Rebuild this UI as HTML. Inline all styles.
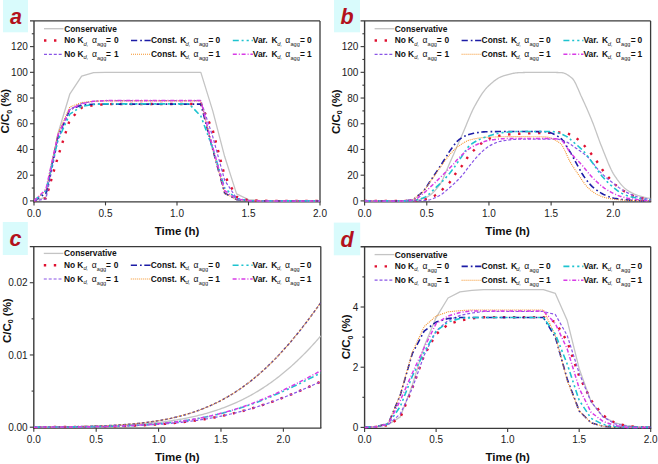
<!DOCTYPE html>
<html><head><meta charset="utf-8"><title>Breakthrough curves</title>
<style>
html,body{margin:0;padding:0;background:#fff;}
body{width:658px;height:464px;overflow:hidden;font-family:"Liberation Sans", sans-serif;}
svg{display:block;}
</style></head><body>
<svg width="658" height="464" viewBox="0 0 658 464" font-family='"Liberation Sans", sans-serif'><defs><clipPath id="clipa"><rect x="34" y="17.9" width="286" height="185.4"/></clipPath><clipPath id="clipb"><rect x="364.6" y="17.9" width="286" height="185.4"/></clipPath><clipPath id="clipc"><rect x="33.8" y="243.6" width="287" height="186"/></clipPath><clipPath id="clipd"><rect x="364.6" y="243.8" width="286.1" height="186"/></clipPath></defs><rect x="3" y="0" width="25" height="32.3" fill="#d9fbfc"/>
<text x="10.1" y="24.4" font-size="21.5" font-weight="bold" font-style="italic" text-anchor="start" fill="#b3111c">a</text>
<line x1="30" y1="20.9" x2="320" y2="20.9" stroke="#3a3a3a" stroke-width="1.4"/>
<line x1="320" y1="20.9" x2="320" y2="201.8" stroke="#3a3a3a" stroke-width="1.3"/>
<line x1="34" y1="20.9" x2="34" y2="202.4" stroke="#3a3a3a" stroke-width="1.4"/>
<line x1="33.4" y1="201.8" x2="320.6" y2="201.8" stroke="#3a3a3a" stroke-width="1.2"/>
<g clip-path="url(#clipa)">
<path d="M34 200.9 L45.92 197.04 L57.83 134.04 L69.75 94.19 L81.67 76.19 L93.58 72.71 L105.5 72.33 L117.42 72.33 L129.33 72.33 L141.25 72.33 L153.17 72.33 L165.08 72.33 L177 72.33 L188.92 72.33 L200.83 72.33 L212.75 110.9 L224.67 156.54 L236.58 193.83 L248.5 199.61 L260.42 200.64 L272.33 200.9 L284.25 200.9 L296.17 200.9 L308.08 200.9 L320 200.9" fill="none" stroke="#c4c4c4" stroke-width="1.3" stroke-linejoin="round" stroke-linecap="butt"/>
<path d="M34 200.9 L45.92 198.33 L57.83 157.19 L69.75 119.9 L81.67 107.69 L93.58 105.11 L105.5 104.21 L117.42 103.96 L129.33 103.96 L141.25 103.96 L153.17 103.96 L165.08 103.96 L177 103.96 L188.92 103.96 L200.83 103.96 L212.75 130.19 L224.67 175.83 L236.58 196.79 L248.5 200.26 L260.42 200.77 L272.33 200.9 L284.25 200.9 L296.17 200.9 L308.08 200.9 L320 200.9" fill="none" stroke="#e01030" stroke-width="2.4" stroke-linejoin="round" stroke-linecap="butt" stroke-dasharray="2.4 7.6"/>
<path d="M34 200.9 L45.92 198.97 L57.83 140.47 L69.75 109.61 L81.67 103.19 L93.58 101.26 L105.5 100.61 L117.42 100.61 L129.33 100.61 L141.25 100.61 L153.17 100.61 L165.08 100.61 L177 100.61 L188.92 100.61 L200.83 100.61 L212.75 136.61 L224.67 180.33 L236.58 198.33 L248.5 200.51 L260.42 200.9 L272.33 200.9 L284.25 200.9 L296.17 200.9 L308.08 200.9 L320 200.9" fill="none" stroke="#8a55e6" stroke-width="1.2" stroke-linejoin="round" stroke-linecap="butt" stroke-dasharray="3 1.9"/>
<path d="M34 200.9 L45.92 193.19 L57.83 136.61 L69.75 109.61 L81.67 105.11 L93.58 104.21 L105.5 104.09 L117.42 104.09 L129.33 104.09 L141.25 104.09 L153.17 104.09 L165.08 104.09 L177 104.09 L188.92 104.09 L200.83 104.09 L212.75 149.47 L224.67 193.19 L236.58 199.61 L248.5 200.64 L260.42 200.9 L272.33 200.9 L284.25 200.9 L296.17 200.9 L308.08 200.9 L320 200.9" fill="none" stroke="#1c1ca6" stroke-width="1.6" stroke-linejoin="round" stroke-linecap="butt" stroke-dasharray="6.2 3 1.7 2.6"/>
<path d="M34 200.9 L45.92 190.61 L57.83 134.04 L69.75 107.04 L81.67 102.54 L93.58 101.26 L105.5 100.87 L117.42 100.87 L129.33 100.87 L141.25 100.87 L153.17 100.87 L165.08 100.87 L177 100.87 L188.92 100.87 L200.83 100.87 L212.75 149.47 L224.67 193.19 L236.58 199.61 L248.5 200.64 L260.42 200.9 L272.33 200.9 L284.25 200.9 L296.17 200.9 L308.08 200.9 L320 200.9" fill="none" stroke="#f5932a" stroke-width="1.1" stroke-linejoin="round" stroke-linecap="butt" stroke-dasharray="1 1"/>
<path d="M34 200.9 L45.92 190.61 L57.83 140.47 L69.75 114.11 L81.67 106.4 L93.58 104.47 L105.5 103.83 L117.42 103.83 L129.33 103.83 L141.25 103.83 L153.17 103.83 L165.08 103.83 L177 103.83 L188.92 103.83 L200.83 116.04 L212.75 148.19 L224.67 188.04 L236.58 198.97 L248.5 200.51 L260.42 200.9 L272.33 200.9 L284.25 200.9 L296.17 200.9 L308.08 200.9 L320 200.9" fill="none" stroke="#1ec3cf" stroke-width="1.6" stroke-linejoin="round" stroke-linecap="butt" stroke-dasharray="6 2.8 2 3 2.2 2.8"/>
<path d="M34 200.9 L45.92 189.33 L57.83 135.33 L69.75 109.61 L81.67 103.83 L93.58 101.26 L105.5 100.61 L117.42 100.61 L129.33 100.61 L141.25 100.61 L153.17 100.61 L165.08 100.61 L177 100.61 L188.92 100.61 L200.83 100.61 L212.75 146.9 L224.67 190.61 L236.58 198.97 L248.5 200.64 L260.42 200.9 L272.33 200.9 L284.25 200.9 L296.17 200.9 L308.08 200.9 L320 200.9" fill="none" stroke="#d83ce6" stroke-width="1.5" stroke-linejoin="round" stroke-linecap="butt" stroke-dasharray="4 2 1 1.8"/>
</g>
<line x1="30" y1="200.9" x2="34" y2="200.9" stroke="#3a3a3a" stroke-width="1.1"/>
<text x="27.8" y="204.5" font-size="10" font-weight="normal" font-style="normal" text-anchor="end" fill="#1a1a1a">0</text>
<line x1="30" y1="175.19" x2="34" y2="175.19" stroke="#3a3a3a" stroke-width="1.1"/>
<text x="27.8" y="178.79" font-size="10" font-weight="normal" font-style="normal" text-anchor="end" fill="#1a1a1a">20</text>
<line x1="30" y1="149.47" x2="34" y2="149.47" stroke="#3a3a3a" stroke-width="1.1"/>
<text x="27.8" y="153.07" font-size="10" font-weight="normal" font-style="normal" text-anchor="end" fill="#1a1a1a">40</text>
<line x1="30" y1="123.76" x2="34" y2="123.76" stroke="#3a3a3a" stroke-width="1.1"/>
<text x="27.8" y="127.36" font-size="10" font-weight="normal" font-style="normal" text-anchor="end" fill="#1a1a1a">60</text>
<line x1="30" y1="98.04" x2="34" y2="98.04" stroke="#3a3a3a" stroke-width="1.1"/>
<text x="27.8" y="101.64" font-size="10" font-weight="normal" font-style="normal" text-anchor="end" fill="#1a1a1a">80</text>
<line x1="30" y1="72.33" x2="34" y2="72.33" stroke="#3a3a3a" stroke-width="1.1"/>
<text x="27.8" y="75.93" font-size="10" font-weight="normal" font-style="normal" text-anchor="end" fill="#1a1a1a">100</text>
<line x1="30" y1="46.61" x2="34" y2="46.61" stroke="#3a3a3a" stroke-width="1.1"/>
<text x="27.8" y="50.21" font-size="10" font-weight="normal" font-style="normal" text-anchor="end" fill="#1a1a1a">120</text>
<line x1="31.8" y1="188.04" x2="34" y2="188.04" stroke="#3a3a3a" stroke-width="1.1"/>
<line x1="31.8" y1="162.33" x2="34" y2="162.33" stroke="#3a3a3a" stroke-width="1.1"/>
<line x1="31.8" y1="136.61" x2="34" y2="136.61" stroke="#3a3a3a" stroke-width="1.1"/>
<line x1="31.8" y1="110.9" x2="34" y2="110.9" stroke="#3a3a3a" stroke-width="1.1"/>
<line x1="31.8" y1="85.19" x2="34" y2="85.19" stroke="#3a3a3a" stroke-width="1.1"/>
<line x1="31.8" y1="59.47" x2="34" y2="59.47" stroke="#3a3a3a" stroke-width="1.1"/>
<line x1="31.8" y1="33.76" x2="34" y2="33.76" stroke="#3a3a3a" stroke-width="1.1"/>
<line x1="34" y1="201.8" x2="34" y2="205.4" stroke="#3a3a3a" stroke-width="1.1"/>
<text x="34" y="216.9" font-size="10" font-weight="normal" font-style="normal" text-anchor="middle" fill="#1a1a1a">0.0</text>
<line x1="105.5" y1="201.8" x2="105.5" y2="205.4" stroke="#3a3a3a" stroke-width="1.1"/>
<text x="105.5" y="216.9" font-size="10" font-weight="normal" font-style="normal" text-anchor="middle" fill="#1a1a1a">0.5</text>
<line x1="177" y1="201.8" x2="177" y2="205.4" stroke="#3a3a3a" stroke-width="1.1"/>
<text x="177" y="216.9" font-size="10" font-weight="normal" font-style="normal" text-anchor="middle" fill="#1a1a1a">1.0</text>
<line x1="248.5" y1="201.8" x2="248.5" y2="205.4" stroke="#3a3a3a" stroke-width="1.1"/>
<text x="248.5" y="216.9" font-size="10" font-weight="normal" font-style="normal" text-anchor="middle" fill="#1a1a1a">1.5</text>
<line x1="320" y1="201.8" x2="320" y2="205.4" stroke="#3a3a3a" stroke-width="1.1"/>
<text x="320" y="216.9" font-size="10" font-weight="normal" font-style="normal" text-anchor="middle" fill="#1a1a1a">2.0</text>
<text x="177" y="234.8" font-size="11.5" font-weight="bold" font-style="normal" text-anchor="middle" fill="#111">Time (h)</text>
<text transform="translate(8.9 111.2) rotate(-90)" font-size="11.5" font-weight="bold" text-anchor="middle" fill="#111">C/C<tspan font-size="7" dy="2.6">0</tspan><tspan dy="-2.6"> (%)</tspan></text>
<path d="M44 28.7 H63.6" fill="none" stroke="#c4c4c4" stroke-width="1.3" stroke-linejoin="round" stroke-linecap="butt"/>
<text x="64.2" y="31.7" font-size="8.4" font-weight="bold" font-style="normal" text-anchor="start" fill="#111">Conservative</text>
<path d="M44 40.5 H63.6" fill="none" stroke="#e01030" stroke-width="2.4" stroke-linejoin="round" stroke-linecap="butt" stroke-dasharray="2.4 7.6"/>
<text x="64.2" y="43.3" font-size="8.4" font-weight="bold" font-style="normal" text-anchor="start" fill="#111">No</text>
<text x="77.4" y="43.3" font-size="8.4" font-weight="bold" font-style="normal" text-anchor="start" fill="#111">K</text>
<text x="83.6" y="45.5" font-size="5.8" font-weight="normal" font-style="italic" text-anchor="start" fill="#222">d,</text>
<text x="92" y="43.3" font-size="8.6" font-weight="normal" font-style="normal" text-anchor="start" fill="#111">α</text>
<text x="97" y="46.1" font-size="5.6" font-weight="normal" font-style="normal" text-anchor="start" fill="#222">agg</text>
<text x="106.1" y="43.3" font-size="8.4" font-weight="bold" font-style="normal" text-anchor="start" fill="#111">=</text>
<text x="113.9" y="43.3" font-size="8.4" font-weight="bold" font-style="normal" text-anchor="start" fill="#111">0</text>
<path d="M44 54.3 H63.6" fill="none" stroke="#8a55e6" stroke-width="1.2" stroke-linejoin="round" stroke-linecap="butt" stroke-dasharray="3 1.9"/>
<text x="64.2" y="57" font-size="8.4" font-weight="bold" font-style="normal" text-anchor="start" fill="#111">No</text>
<text x="77.4" y="57" font-size="8.4" font-weight="bold" font-style="normal" text-anchor="start" fill="#111">K</text>
<text x="83.6" y="59.2" font-size="5.8" font-weight="normal" font-style="italic" text-anchor="start" fill="#222">d,</text>
<text x="92" y="57" font-size="8.6" font-weight="normal" font-style="normal" text-anchor="start" fill="#111">α</text>
<text x="97" y="59.8" font-size="5.6" font-weight="normal" font-style="normal" text-anchor="start" fill="#222">agg</text>
<text x="106.1" y="57" font-size="8.4" font-weight="bold" font-style="normal" text-anchor="start" fill="#111">=</text>
<text x="113.9" y="57" font-size="8.4" font-weight="bold" font-style="normal" text-anchor="start" fill="#111">1</text>
<path d="M131 40.5 H151" fill="none" stroke="#1c1ca6" stroke-width="1.6" stroke-linejoin="round" stroke-linecap="butt" stroke-dasharray="6.2 3 1.7 2.6"/>
<text x="151" y="43.3" font-size="8.4" font-weight="bold" font-style="normal" text-anchor="start" fill="#111">Const.</text>
<text x="180.3" y="43.3" font-size="8.4" font-weight="bold" font-style="normal" text-anchor="start" fill="#111">K</text>
<text x="185.6" y="45.5" font-size="5.8" font-weight="normal" font-style="italic" text-anchor="start" fill="#222">d,</text>
<text x="193.6" y="43.3" font-size="8.6" font-weight="normal" font-style="normal" text-anchor="start" fill="#111">α</text>
<text x="198.9" y="46.1" font-size="5.6" font-weight="normal" font-style="normal" text-anchor="start" fill="#222">agg</text>
<text x="208.5" y="43.3" font-size="8.4" font-weight="bold" font-style="normal" text-anchor="start" fill="#111">=</text>
<text x="215.4" y="43.3" font-size="8.4" font-weight="bold" font-style="normal" text-anchor="start" fill="#111">0</text>
<path d="M131 54.3 H151" fill="none" stroke="#f5932a" stroke-width="1.1" stroke-linejoin="round" stroke-linecap="butt" stroke-dasharray="1 1"/>
<text x="151" y="57" font-size="8.4" font-weight="bold" font-style="normal" text-anchor="start" fill="#111">Const.</text>
<text x="180.3" y="57" font-size="8.4" font-weight="bold" font-style="normal" text-anchor="start" fill="#111">K</text>
<text x="185.6" y="59.2" font-size="5.8" font-weight="normal" font-style="italic" text-anchor="start" fill="#222">d,</text>
<text x="193.6" y="57" font-size="8.6" font-weight="normal" font-style="normal" text-anchor="start" fill="#111">α</text>
<text x="198.9" y="59.8" font-size="5.6" font-weight="normal" font-style="normal" text-anchor="start" fill="#222">agg</text>
<text x="208.5" y="57" font-size="8.4" font-weight="bold" font-style="normal" text-anchor="start" fill="#111">=</text>
<text x="215.4" y="57" font-size="8.4" font-weight="bold" font-style="normal" text-anchor="start" fill="#111">1</text>
<path d="M232.8 40.5 H252.9" fill="none" stroke="#1ec3cf" stroke-width="1.6" stroke-linejoin="round" stroke-linecap="butt" stroke-dasharray="6 2.8 2 3 2.2 2.8"/>
<text x="252.8" y="43.3" font-size="8.4" font-weight="bold" font-style="normal" text-anchor="start" fill="#111">Var.</text>
<text x="271.4" y="43.3" font-size="8.4" font-weight="bold" font-style="normal" text-anchor="start" fill="#111">K</text>
<text x="277.2" y="45.5" font-size="5.8" font-weight="normal" font-style="italic" text-anchor="start" fill="#222">d,</text>
<text x="285.2" y="43.3" font-size="8.6" font-weight="normal" font-style="normal" text-anchor="start" fill="#111">α</text>
<text x="290.5" y="46.1" font-size="5.6" font-weight="normal" font-style="normal" text-anchor="start" fill="#222">agg</text>
<text x="300.1" y="43.3" font-size="8.4" font-weight="bold" font-style="normal" text-anchor="start" fill="#111">=</text>
<text x="307" y="43.3" font-size="8.4" font-weight="bold" font-style="normal" text-anchor="start" fill="#111">0</text>
<path d="M232.8 54.3 H252.9" fill="none" stroke="#d83ce6" stroke-width="1.5" stroke-linejoin="round" stroke-linecap="butt" stroke-dasharray="4 2 1 1.8"/>
<text x="252.8" y="57" font-size="8.4" font-weight="bold" font-style="normal" text-anchor="start" fill="#111">Var.</text>
<text x="271.4" y="57" font-size="8.4" font-weight="bold" font-style="normal" text-anchor="start" fill="#111">K</text>
<text x="277.2" y="59.2" font-size="5.8" font-weight="normal" font-style="italic" text-anchor="start" fill="#222">d,</text>
<text x="285.2" y="57" font-size="8.6" font-weight="normal" font-style="normal" text-anchor="start" fill="#111">α</text>
<text x="290.5" y="59.8" font-size="5.6" font-weight="normal" font-style="normal" text-anchor="start" fill="#222">agg</text>
<text x="300.1" y="57" font-size="8.4" font-weight="bold" font-style="normal" text-anchor="start" fill="#111">=</text>
<text x="307" y="57" font-size="8.4" font-weight="bold" font-style="normal" text-anchor="start" fill="#111">1</text>
<rect x="334" y="0" width="26" height="32.3" fill="#d9fbfc"/>
<text x="340.5" y="24.4" font-size="21.5" font-weight="bold" font-style="italic" text-anchor="start" fill="#b3111c">b</text>
<line x1="360.6" y1="20.9" x2="650.6" y2="20.9" stroke="#3a3a3a" stroke-width="1.4"/>
<line x1="650.6" y1="20.9" x2="650.6" y2="201.8" stroke="#3a3a3a" stroke-width="1.3"/>
<line x1="364.6" y1="20.9" x2="364.6" y2="202.4" stroke="#3a3a3a" stroke-width="1.4"/>
<line x1="364" y1="201.8" x2="651.2" y2="201.8" stroke="#3a3a3a" stroke-width="1.2"/>
<g clip-path="url(#clipb)">
<path d="M364.6 200.9 L365.56 200.9 L366.51 200.9 L367.47 200.9 L368.43 200.9 L369.38 200.9 L370.34 200.9 L371.3 200.9 L372.25 200.9 L373.21 200.9 L374.17 200.9 L375.12 200.9 L376.08 200.9 L377.03 200.9 L377.99 200.9 L378.95 200.9 L379.9 200.9 L380.86 200.9 L381.82 200.9 L382.77 200.9 L383.73 200.9 L384.69 200.9 L385.64 200.9 L386.6 200.9 L387.56 200.9 L388.51 200.9 L389.47 200.9 L390.43 200.9 L391.38 200.9 L392.34 200.9 L393.3 200.9 L394.25 200.9 L395.21 200.9 L396.17 200.9 L397.12 200.9 L398.08 200.9 L399.03 200.9 L399.99 200.9 L400.95 200.9 L401.9 200.9 L402.86 200.9 L403.82 200.89 L404.77 200.87 L405.73 200.84 L406.69 200.81 L407.64 200.77 L408.6 200.73 L409.56 200.69 L410.51 200.63 L411.47 200.58 L412.43 200.52 L413.38 200.45 L414.34 200.39 L415.3 200.3 L416.25 200.18 L417.21 200.02 L418.17 199.84 L419.12 199.62 L420.08 199.38 L421.03 199.11 L421.99 198.82 L422.95 198.5 L423.9 198.17 L424.86 197.81 L425.82 197.43 L426.77 197.04 L427.73 196.6 L428.69 196.06 L429.64 195.44 L430.6 194.73 L431.56 193.95 L432.51 193.1 L433.47 192.17 L434.43 191.19 L435.38 190.14 L436.34 189.05 L437.3 187.9 L438.25 186.7 L439.21 185.47 L440.17 184.09 L441.12 182.47 L442.08 180.65 L443.03 178.67 L443.99 176.55 L444.95 174.34 L445.9 172.06 L446.86 169.75 L447.82 167.44 L448.77 165.18 L449.73 162.99 L450.69 160.87 L451.64 158.74 L452.6 156.59 L453.56 154.43 L454.51 152.25 L455.47 150.07 L456.43 147.88 L457.38 145.68 L458.34 143.49 L459.3 141.29 L460.25 139.09 L461.21 136.9 L462.17 134.72 L463.12 132.53 L464.08 130.28 L465.03 127.99 L465.99 125.68 L466.95 123.35 L467.9 121.03 L468.86 118.74 L469.82 116.48 L470.77 114.27 L471.73 112.13 L472.69 110.08 L473.64 108.13 L474.6 106.3 L475.56 104.57 L476.51 102.87 L477.47 101.19 L478.43 99.55 L479.38 97.94 L480.34 96.39 L481.3 94.89 L482.25 93.44 L483.21 92.07 L484.17 90.78 L485.12 89.56 L486.08 88.44 L487.03 87.41 L487.99 86.47 L488.95 85.55 L489.9 84.66 L490.86 83.79 L491.82 82.95 L492.77 82.14 L493.73 81.36 L494.69 80.62 L495.64 79.91 L496.6 79.25 L497.56 78.63 L498.51 78.05 L499.47 77.53 L500.43 77.06 L501.38 76.64 L502.34 76.28 L503.3 75.97 L504.25 75.67 L505.21 75.37 L506.17 75.09 L507.12 74.81 L508.08 74.54 L509.03 74.29 L509.99 74.05 L510.95 73.82 L511.9 73.61 L512.86 73.42 L513.82 73.24 L514.77 73.08 L515.73 72.94 L516.69 72.82 L517.64 72.73 L518.6 72.65 L519.56 72.6 L520.51 72.57 L521.47 72.55 L522.43 72.53 L523.38 72.5 L524.34 72.48 L525.3 72.47 L526.25 72.45 L527.21 72.43 L528.17 72.41 L529.12 72.4 L530.08 72.39 L531.03 72.37 L531.99 72.36 L532.95 72.35 L533.9 72.35 L534.86 72.34 L535.82 72.34 L536.77 72.33 L537.73 72.33 L538.69 72.33 L539.64 72.33 L540.6 72.33 L541.56 72.33 L542.51 72.33 L543.47 72.34 L544.43 72.34 L545.38 72.35 L546.34 72.35 L547.3 72.36 L548.25 72.37 L549.21 72.38 L550.17 72.39 L551.12 72.4 L552.08 72.41 L553.03 72.43 L553.99 72.44 L554.95 72.46 L555.9 72.47 L556.86 72.49 L557.82 72.51 L558.77 72.53 L559.73 72.55 L560.69 72.58 L561.64 72.62 L562.6 72.76 L563.56 72.99 L564.51 73.32 L565.47 73.72 L566.43 74.2 L567.38 74.75 L568.34 75.35 L569.3 76.01 L570.25 76.71 L571.21 77.45 L572.17 78.23 L573.12 79.3 L574.08 80.72 L575.03 82.41 L575.99 84.33 L576.95 86.42 L577.9 88.61 L578.86 90.86 L579.82 93.09 L580.77 95.27 L581.73 97.32 L582.69 99.36 L583.64 101.43 L584.6 103.53 L585.56 105.67 L586.51 107.83 L587.47 110.02 L588.43 112.24 L589.38 114.5 L590.34 116.78 L591.3 119.1 L592.25 121.45 L593.21 123.86 L594.17 126.38 L595.12 128.97 L596.08 131.62 L597.03 134.29 L597.99 136.96 L598.95 139.61 L599.9 142.2 L600.86 144.71 L601.82 147.11 L602.77 149.49 L603.73 151.89 L604.69 154.3 L605.64 156.7 L606.6 159.07 L607.56 161.41 L608.51 163.68 L609.47 165.88 L610.43 167.98 L611.38 169.97 L612.34 171.84 L613.3 173.56 L614.25 175.13 L615.21 176.58 L616.17 177.99 L617.12 179.36 L618.08 180.67 L619.03 181.94 L619.99 183.15 L620.95 184.3 L621.9 185.39 L622.86 186.41 L623.82 187.36 L624.77 188.24 L625.73 189.05 L626.69 189.77 L627.64 190.42 L628.6 191.04 L629.56 191.62 L630.51 192.17 L631.47 192.69 L632.43 193.18 L633.38 193.63 L634.34 194.06 L635.3 194.46 L636.25 194.83 L637.21 195.18 L638.17 195.5 L639.12 195.81 L640.08 196.11 L641.03 196.4 L641.99 196.68 L642.95 196.94 L643.9 197.2 L644.86 197.44 L645.82 197.66 L646.77 197.86 L647.73 198.05 L648.69 198.21 L649.64 198.35 L650.6 198.46" fill="none" stroke="#c4c4c4" stroke-width="1.3" stroke-linejoin="round" stroke-linecap="butt"/>
<path d="M364.6 200.9 L365.56 200.9 L366.51 200.9 L367.47 200.9 L368.43 200.9 L369.38 200.9 L370.34 200.9 L371.3 200.9 L372.25 200.9 L373.21 200.9 L374.17 200.9 L375.12 200.9 L376.08 200.9 L377.03 200.9 L377.99 200.9 L378.95 200.9 L379.9 200.9 L380.86 200.9 L381.82 200.9 L382.77 200.9 L383.73 200.9 L384.69 200.9 L385.64 200.9 L386.6 200.9 L387.56 200.9 L388.51 200.9 L389.47 200.9 L390.43 200.9 L391.38 200.9 L392.34 200.9 L393.3 200.9 L394.25 200.9 L395.21 200.9 L396.17 200.9 L397.12 200.9 L398.08 200.9 L399.03 200.9 L399.99 200.9 L400.95 200.9 L401.9 200.9 L402.86 200.9 L403.82 200.9 L404.77 200.9 L405.73 200.9 L406.69 200.9 L407.64 200.9 L408.6 200.9 L409.56 200.89 L410.51 200.87 L411.47 200.84 L412.43 200.81 L413.38 200.77 L414.34 200.72 L415.3 200.66 L416.25 200.6 L417.21 200.53 L418.17 200.46 L419.12 200.38 L420.08 200.3 L421.03 200.21 L421.99 200.08 L422.95 199.92 L423.9 199.72 L424.86 199.49 L425.82 199.22 L426.77 198.93 L427.73 198.61 L428.69 198.27 L429.64 197.9 L430.6 197.51 L431.56 197.11 L432.51 196.69 L433.47 196.26 L434.43 195.8 L435.38 195.24 L436.34 194.6 L437.3 193.89 L438.25 193.12 L439.21 192.31 L440.17 191.47 L441.12 190.62 L442.08 189.78 L443.03 188.94 L443.99 188.09 L444.95 187.21 L445.9 186.31 L446.86 185.37 L447.82 184.38 L448.77 183.34 L449.73 182.25 L450.69 181.06 L451.64 179.7 L452.6 178.22 L453.56 176.69 L454.51 175.18 L455.47 173.77 L456.43 172.49 L457.38 171.29 L458.34 170.15 L459.3 169.03 L460.25 167.89 L461.21 166.72 L462.17 165.48 L463.12 164.13 L464.08 162.68 L465.03 161.19 L465.99 159.71 L466.95 158.31 L467.9 157.03 L468.86 155.84 L469.82 154.69 L470.77 153.58 L471.73 152.52 L472.69 151.49 L473.64 150.5 L474.6 149.54 L475.56 148.57 L476.51 147.62 L477.47 146.69 L478.43 145.8 L479.38 144.95 L480.34 144.15 L481.3 143.42 L482.25 142.77 L483.21 142.17 L484.17 141.58 L485.12 141 L486.08 140.44 L487.03 139.91 L487.99 139.39 L488.95 138.91 L489.9 138.45 L490.86 138.03 L491.82 137.64 L492.77 137.29 L493.73 136.99 L494.69 136.73 L495.64 136.51 L496.6 136.31 L497.56 136.11 L498.51 135.93 L499.47 135.75 L500.43 135.58 L501.38 135.42 L502.34 135.26 L503.3 135.12 L504.25 134.98 L505.21 134.85 L506.17 134.73 L507.12 134.62 L508.08 134.52 L509.03 134.42 L509.99 134.33 L510.95 134.25 L511.9 134.17 L512.86 134.1 L513.82 134.04 L514.77 133.99 L515.73 133.93 L516.69 133.88 L517.64 133.83 L518.6 133.78 L519.56 133.74 L520.51 133.69 L521.47 133.65 L522.43 133.61 L523.38 133.57 L524.34 133.53 L525.3 133.5 L526.25 133.46 L527.21 133.42 L528.17 133.39 L529.12 133.36 L530.08 133.33 L531.03 133.3 L531.99 133.27 L532.95 133.24 L533.9 133.21 L534.86 133.18 L535.82 133.16 L536.77 133.13 L537.73 133.11 L538.69 133.08 L539.64 133.05 L540.6 133.03 L541.56 133.01 L542.51 132.98 L543.47 132.96 L544.43 132.93 L545.38 132.91 L546.34 132.88 L547.3 132.86 L548.25 132.83 L549.21 132.81 L550.17 132.78 L551.12 132.76 L552.08 132.73 L553.03 132.7 L553.99 132.67 L554.95 132.64 L555.9 132.61 L556.86 132.58 L557.82 132.55 L558.77 132.53 L559.73 132.52 L560.69 132.5 L561.64 132.5 L562.6 132.53 L563.56 132.63 L564.51 132.79 L565.47 133 L566.43 133.25 L567.38 133.54 L568.34 133.86 L569.3 134.2 L570.25 134.56 L571.21 134.92 L572.17 135.33 L573.12 135.84 L574.08 136.44 L575.03 137.12 L575.99 137.85 L576.95 138.62 L577.9 139.42 L578.86 140.24 L579.82 141.07 L580.77 141.94 L581.73 142.87 L582.69 143.87 L583.64 144.9 L584.6 145.97 L585.56 147.05 L586.51 148.14 L587.47 149.25 L588.43 150.4 L589.38 151.57 L590.34 152.76 L591.3 153.98 L592.25 155.22 L593.21 156.46 L594.17 157.74 L595.12 159.04 L596.08 160.36 L597.03 161.69 L597.99 163.05 L598.95 164.42 L599.9 165.85 L600.86 167.34 L601.82 168.83 L602.77 170.29 L603.73 171.67 L604.69 172.93 L605.64 174.11 L606.6 175.23 L607.56 176.31 L608.51 177.36 L609.47 178.39 L610.43 179.41 L611.38 180.43 L612.34 181.46 L613.3 182.49 L614.25 183.51 L615.21 184.49 L616.17 185.42 L617.12 186.3 L618.08 187.09 L619.03 187.82 L619.99 188.5 L620.95 189.15 L621.9 189.77 L622.86 190.36 L623.82 190.93 L624.77 191.48 L625.73 192.01 L626.69 192.52 L627.64 193.04 L628.6 193.56 L629.56 194.08 L630.51 194.58 L631.47 195.08 L632.43 195.54 L633.38 195.98 L634.34 196.38 L635.3 196.73 L636.25 197.03 L637.21 197.27 L638.17 197.49 L639.12 197.69 L640.08 197.88 L641.03 198.05 L641.99 198.21 L642.95 198.36 L643.9 198.5 L644.86 198.63 L645.82 198.75 L646.77 198.86 L647.73 198.97 L648.69 199.07 L649.64 199.15 L650.6 199.23" fill="none" stroke="#e01030" stroke-width="2.4" stroke-linejoin="round" stroke-linecap="butt" stroke-dasharray="2.4 7.6"/>
<path d="M364.6 200.9 L365.56 200.9 L366.51 200.9 L367.47 200.9 L368.43 200.9 L369.38 200.9 L370.34 200.9 L371.3 200.9 L372.25 200.9 L373.21 200.9 L374.17 200.9 L375.12 200.9 L376.08 200.9 L377.03 200.9 L377.99 200.9 L378.95 200.9 L379.9 200.9 L380.86 200.9 L381.82 200.9 L382.77 200.9 L383.73 200.9 L384.69 200.9 L385.64 200.9 L386.6 200.9 L387.56 200.9 L388.51 200.9 L389.47 200.9 L390.43 200.9 L391.38 200.9 L392.34 200.9 L393.3 200.9 L394.25 200.9 L395.21 200.9 L396.17 200.9 L397.12 200.9 L398.08 200.9 L399.03 200.9 L399.99 200.9 L400.95 200.9 L401.9 200.9 L402.86 200.9 L403.82 200.9 L404.77 200.9 L405.73 200.9 L406.69 200.9 L407.64 200.9 L408.6 200.9 L409.56 200.9 L410.51 200.89 L411.47 200.88 L412.43 200.86 L413.38 200.85 L414.34 200.83 L415.3 200.8 L416.25 200.77 L417.21 200.74 L418.17 200.71 L419.12 200.67 L420.08 200.63 L421.03 200.59 L421.99 200.54 L422.95 200.49 L423.9 200.43 L424.86 200.38 L425.82 200.32 L426.77 200.26 L427.73 200.16 L428.69 200 L429.64 199.79 L430.6 199.53 L431.56 199.22 L432.51 198.87 L433.47 198.49 L434.43 198.07 L435.38 197.64 L436.34 197.18 L437.3 196.71 L438.25 196.24 L439.21 195.76 L440.17 195.24 L441.12 194.64 L442.08 193.98 L443.03 193.26 L443.99 192.5 L444.95 191.7 L445.9 190.88 L446.86 190.04 L447.82 189.2 L448.77 188.37 L449.73 187.55 L450.69 186.72 L451.64 185.88 L452.6 185.02 L453.56 184.15 L454.51 183.27 L455.47 182.36 L456.43 181.44 L457.38 180.49 L458.34 179.53 L459.3 178.54 L460.25 177.52 L461.21 176.48 L462.17 175.39 L463.12 174.23 L464.08 173.02 L465.03 171.78 L465.99 170.51 L466.95 169.23 L467.9 167.96 L468.86 166.71 L469.82 165.49 L470.77 164.31 L471.73 163.13 L472.69 161.93 L473.64 160.74 L474.6 159.56 L475.56 158.41 L476.51 157.29 L477.47 156.2 L478.43 155.18 L479.38 154.21 L480.34 153.29 L481.3 152.38 L482.25 151.49 L483.21 150.61 L484.17 149.77 L485.12 148.96 L486.08 148.19 L487.03 147.46 L487.99 146.79 L488.95 146.18 L489.9 145.63 L490.86 145.13 L491.82 144.64 L492.77 144.16 L493.73 143.7 L494.69 143.27 L495.64 142.86 L496.6 142.47 L497.56 142.12 L498.51 141.81 L499.47 141.54 L500.43 141.3 L501.38 141.11 L502.34 140.95 L503.3 140.79 L504.25 140.64 L505.21 140.49 L506.17 140.34 L507.12 140.21 L508.08 140.07 L509.03 139.95 L509.99 139.83 L510.95 139.72 L511.9 139.62 L512.86 139.53 L513.82 139.45 L514.77 139.38 L515.73 139.32 L516.69 139.27 L517.64 139.23 L518.6 139.2 L519.56 139.19 L520.51 139.19 L521.47 139.19 L522.43 139.19 L523.38 139.19 L524.34 139.19 L525.3 139.19 L526.25 139.19 L527.21 139.19 L528.17 139.19 L529.12 139.19 L530.08 139.19 L531.03 139.19 L531.99 139.19 L532.95 139.19 L533.9 139.19 L534.86 139.19 L535.82 139.19 L536.77 139.19 L537.73 139.19 L538.69 139.19 L539.64 139.19 L540.6 139.19 L541.56 139.19 L542.51 139.19 L543.47 139.19 L544.43 139.19 L545.38 139.19 L546.34 139.19 L547.3 139.19 L548.25 139.19 L549.21 139.19 L550.17 139.19 L551.12 139.19 L552.08 139.19 L553.03 139.19 L553.99 139.19 L554.95 139.19 L555.9 139.19 L556.86 139.19 L557.82 139.2 L558.77 139.29 L559.73 139.47 L560.69 139.72 L561.64 140.02 L562.6 140.36 L563.56 140.74 L564.51 141.13 L565.47 141.52 L566.43 141.92 L567.38 142.37 L568.34 142.89 L569.3 143.46 L570.25 144.09 L571.21 144.74 L572.17 145.42 L573.12 146.12 L574.08 146.82 L575.03 147.51 L575.99 148.19 L576.95 148.85 L577.9 149.51 L578.86 150.17 L579.82 150.83 L580.77 151.51 L581.73 152.19 L582.69 152.9 L583.64 153.63 L584.6 154.38 L585.56 155.16 L586.51 155.98 L587.47 156.84 L588.43 157.76 L589.38 158.77 L590.34 159.85 L591.3 160.98 L592.25 162.16 L593.21 163.38 L594.17 164.61 L595.12 165.84 L596.08 167.07 L597.03 168.27 L597.99 169.44 L598.95 170.57 L599.9 171.63 L600.86 172.61 L601.82 173.55 L602.77 174.46 L603.73 175.35 L604.69 176.22 L605.64 177.07 L606.6 177.9 L607.56 178.71 L608.51 179.51 L609.47 180.3 L610.43 181.07 L611.38 181.83 L612.34 182.57 L613.3 183.31 L614.25 184.04 L615.21 184.76 L616.17 185.48 L617.12 186.2 L618.08 186.91 L619.03 187.62 L619.99 188.3 L620.95 188.97 L621.9 189.62 L622.86 190.24 L623.82 190.83 L624.77 191.38 L625.73 191.9 L626.69 192.39 L627.64 192.87 L628.6 193.34 L629.56 193.8 L630.51 194.24 L631.47 194.67 L632.43 195.08 L633.38 195.47 L634.34 195.83 L635.3 196.18 L636.25 196.49 L637.21 196.78 L638.17 197.04 L639.12 197.29 L640.08 197.52 L641.03 197.75 L641.99 197.98 L642.95 198.19 L643.9 198.39 L644.86 198.58 L645.82 198.75 L646.77 198.91 L647.73 199.05 L648.69 199.17 L649.64 199.28 L650.6 199.36" fill="none" stroke="#8a55e6" stroke-width="1.2" stroke-linejoin="round" stroke-linecap="butt" stroke-dasharray="3 1.9"/>
<path d="M364.6 200.9 L365.56 200.9 L366.51 200.9 L367.47 200.9 L368.43 200.9 L369.38 200.9 L370.34 200.9 L371.3 200.9 L372.25 200.9 L373.21 200.9 L374.17 200.9 L375.12 200.9 L376.08 200.9 L377.03 200.9 L377.99 200.9 L378.95 200.9 L379.9 200.9 L380.86 200.9 L381.82 200.9 L382.77 200.9 L383.73 200.9 L384.69 200.9 L385.64 200.9 L386.6 200.9 L387.56 200.9 L388.51 200.9 L389.47 200.9 L390.43 200.9 L391.38 200.9 L392.34 200.9 L393.3 200.9 L394.25 200.9 L395.21 200.9 L396.17 200.9 L397.12 200.9 L398.08 200.9 L399.03 200.9 L399.99 200.9 L400.95 200.9 L401.9 200.9 L402.86 200.89 L403.82 200.86 L404.77 200.81 L405.73 200.74 L406.69 200.65 L407.64 200.54 L408.6 200.41 L409.56 200.27 L410.51 200.12 L411.47 199.94 L412.43 199.71 L413.38 199.24 L414.34 198.59 L415.3 197.82 L416.25 197.01 L417.21 196.23 L418.17 195.51 L419.12 194.78 L420.08 194.03 L421.03 193.24 L421.99 192.4 L422.95 191.49 L423.9 190.5 L424.86 189.37 L425.82 188.03 L426.77 186.56 L427.73 185.02 L428.69 183.47 L429.64 181.97 L430.6 180.55 L431.56 179.15 L432.51 177.75 L433.47 176.35 L434.43 174.94 L435.38 173.52 L436.34 172.08 L437.3 170.62 L438.25 169.15 L439.21 167.68 L440.17 166.2 L441.12 164.71 L442.08 163.22 L443.03 161.73 L443.99 160.23 L444.95 158.69 L445.9 157.13 L446.86 155.57 L447.82 154.03 L448.77 152.55 L449.73 151.14 L450.69 149.8 L451.64 148.47 L452.6 147.14 L453.56 145.82 L454.51 144.55 L455.47 143.33 L456.43 142.2 L457.38 141.16 L458.34 140.25 L459.3 139.48 L460.25 138.82 L461.21 138.18 L462.17 137.58 L463.12 137.01 L464.08 136.47 L465.03 135.98 L465.99 135.52 L466.95 135.11 L467.9 134.75 L468.86 134.43 L469.82 134.16 L470.77 133.94 L471.73 133.72 L472.69 133.52 L473.64 133.32 L474.6 133.14 L475.56 132.96 L476.51 132.79 L477.47 132.63 L478.43 132.48 L479.38 132.34 L480.34 132.21 L481.3 132.1 L482.25 132 L483.21 131.92 L484.17 131.84 L485.12 131.79 L486.08 131.75 L487.03 131.72 L487.99 131.71 L488.95 131.69 L489.9 131.67 L490.86 131.66 L491.82 131.64 L492.77 131.63 L493.73 131.61 L494.69 131.6 L495.64 131.59 L496.6 131.58 L497.56 131.56 L498.51 131.55 L499.47 131.54 L500.43 131.53 L501.38 131.53 L502.34 131.52 L503.3 131.51 L504.25 131.5 L505.21 131.5 L506.17 131.49 L507.12 131.49 L508.08 131.48 L509.03 131.48 L509.99 131.48 L510.95 131.47 L511.9 131.47 L512.86 131.47 L513.82 131.47 L514.77 131.47 L515.73 131.47 L516.69 131.47 L517.64 131.47 L518.6 131.48 L519.56 131.48 L520.51 131.48 L521.47 131.48 L522.43 131.49 L523.38 131.49 L524.34 131.5 L525.3 131.5 L526.25 131.51 L527.21 131.51 L528.17 131.52 L529.12 131.53 L530.08 131.53 L531.03 131.54 L531.99 131.55 L532.95 131.56 L533.9 131.57 L534.86 131.58 L535.82 131.59 L536.77 131.6 L537.73 131.62 L538.69 131.63 L539.64 131.64 L540.6 131.66 L541.56 131.67 L542.51 131.69 L543.47 131.7 L544.43 131.72 L545.38 131.74 L546.34 131.82 L547.3 131.96 L548.25 132.14 L549.21 132.38 L550.17 132.67 L551.12 133 L552.08 133.37 L553.03 133.78 L553.99 134.23 L554.95 134.71 L555.9 135.22 L556.86 135.76 L557.82 136.32 L558.77 136.9 L559.73 137.5 L560.69 138.19 L561.64 139.1 L562.6 140.21 L563.56 141.48 L564.51 142.89 L565.47 144.38 L566.43 145.93 L567.38 147.51 L568.34 149.07 L569.3 150.6 L570.25 152.16 L571.21 153.82 L572.17 155.53 L573.12 157.29 L574.08 159.06 L575.03 160.83 L575.99 162.56 L576.95 164.27 L577.9 166.02 L578.86 167.8 L579.82 169.57 L580.77 171.3 L581.73 172.97 L582.69 174.55 L583.64 176 L584.6 177.36 L585.56 178.69 L586.51 179.98 L587.47 181.23 L588.43 182.42 L589.38 183.56 L590.34 184.63 L591.3 185.63 L592.25 186.56 L593.21 187.41 L594.17 188.21 L595.12 188.98 L596.08 189.72 L597.03 190.42 L597.99 191.09 L598.95 191.73 L599.9 192.34 L600.86 192.91 L601.82 193.44 L602.77 193.95 L603.73 194.42 L604.69 194.86 L605.64 195.3 L606.6 195.73 L607.56 196.13 L608.51 196.53 L609.47 196.89 L610.43 197.24 L611.38 197.55 L612.34 197.83 L613.3 198.07 L614.25 198.28 L615.21 198.45 L616.17 198.61 L617.12 198.76 L618.08 198.91 L619.03 199.05 L619.99 199.18 L620.95 199.31 L621.9 199.43 L622.86 199.54 L623.82 199.64 L624.77 199.74 L625.73 199.83 L626.69 199.92 L627.64 200 L628.6 200.07 L629.56 200.13 L630.51 200.19 L631.47 200.24 L632.43 200.28 L633.38 200.32 L634.34 200.36 L635.3 200.4 L636.25 200.44 L637.21 200.48 L638.17 200.51 L639.12 200.55 L640.08 200.58 L641.03 200.61 L641.99 200.64 L642.95 200.67 L643.9 200.69 L644.86 200.71 L645.82 200.73 L646.77 200.74 L647.73 200.76 L648.69 200.76 L649.64 200.77 L650.6 200.77" fill="none" stroke="#1c1ca6" stroke-width="1.6" stroke-linejoin="round" stroke-linecap="butt" stroke-dasharray="6.2 3 1.7 2.6"/>
<path d="M364.6 200.9 L365.56 200.9 L366.51 200.9 L367.47 200.9 L368.43 200.9 L369.38 200.9 L370.34 200.9 L371.3 200.9 L372.25 200.9 L373.21 200.9 L374.17 200.9 L375.12 200.9 L376.08 200.9 L377.03 200.9 L377.99 200.9 L378.95 200.9 L379.9 200.9 L380.86 200.9 L381.82 200.9 L382.77 200.9 L383.73 200.9 L384.69 200.9 L385.64 200.9 L386.6 200.9 L387.56 200.9 L388.51 200.9 L389.47 200.9 L390.43 200.9 L391.38 200.9 L392.34 200.9 L393.3 200.9 L394.25 200.9 L395.21 200.9 L396.17 200.9 L397.12 200.9 L398.08 200.9 L399.03 200.9 L399.99 200.9 L400.95 200.9 L401.9 200.9 L402.86 200.89 L403.82 200.86 L404.77 200.81 L405.73 200.74 L406.69 200.65 L407.64 200.54 L408.6 200.41 L409.56 200.27 L410.51 200.12 L411.47 199.94 L412.43 199.71 L413.38 199.24 L414.34 198.58 L415.3 197.81 L416.25 197 L417.21 196.23 L418.17 195.52 L419.12 194.82 L420.08 194.1 L421.03 193.36 L421.99 192.56 L422.95 191.7 L423.9 190.75 L424.86 189.67 L425.82 188.4 L426.77 187 L427.73 185.52 L428.69 184.04 L429.64 182.6 L430.6 181.23 L431.56 179.87 L432.51 178.5 L433.47 177.13 L434.43 175.76 L435.38 174.39 L436.34 173.02 L437.3 171.63 L438.25 170.22 L439.21 168.82 L440.17 167.42 L441.12 166.04 L442.08 164.68 L443.03 163.35 L443.99 162.04 L444.95 160.74 L445.9 159.44 L446.86 158.16 L447.82 156.92 L448.77 155.72 L449.73 154.59 L450.69 153.52 L451.64 152.47 L452.6 151.46 L453.56 150.47 L454.51 149.53 L455.47 148.64 L456.43 147.82 L457.38 147.07 L458.34 146.38 L459.3 145.69 L460.25 145.02 L461.21 144.36 L462.17 143.73 L463.12 143.12 L464.08 142.54 L465.03 141.99 L465.99 141.49 L466.95 141.03 L467.9 140.62 L468.86 140.26 L469.82 139.96 L470.77 139.71 L471.73 139.48 L472.69 139.26 L473.64 139.05 L474.6 138.85 L475.56 138.65 L476.51 138.47 L477.47 138.3 L478.43 138.14 L479.38 137.99 L480.34 137.85 L481.3 137.73 L482.25 137.62 L483.21 137.52 L484.17 137.43 L485.12 137.35 L486.08 137.29 L487.03 137.25 L487.99 137.21 L488.95 137.17 L489.9 137.13 L490.86 137.09 L491.82 137.05 L492.77 137.02 L493.73 136.98 L494.69 136.95 L495.64 136.92 L496.6 136.89 L497.56 136.86 L498.51 136.84 L499.47 136.81 L500.43 136.79 L501.38 136.76 L502.34 136.74 L503.3 136.72 L504.25 136.7 L505.21 136.69 L506.17 136.67 L507.12 136.66 L508.08 136.65 L509.03 136.64 L509.99 136.63 L510.95 136.62 L511.9 136.62 L512.86 136.62 L513.82 136.61 L514.77 136.61 L515.73 136.62 L516.69 136.62 L517.64 136.62 L518.6 136.62 L519.56 136.62 L520.51 136.62 L521.47 136.63 L522.43 136.63 L523.38 136.64 L524.34 136.64 L525.3 136.64 L526.25 136.65 L527.21 136.66 L528.17 136.66 L529.12 136.67 L530.08 136.68 L531.03 136.69 L531.99 136.69 L532.95 136.7 L533.9 136.71 L534.86 136.72 L535.82 136.74 L536.77 136.75 L537.73 136.76 L538.69 136.77 L539.64 136.79 L540.6 136.8 L541.56 136.81 L542.51 136.83 L543.47 136.85 L544.43 136.86 L545.38 136.89 L546.34 136.96 L547.3 137.1 L548.25 137.29 L549.21 137.53 L550.17 137.82 L551.12 138.15 L552.08 138.54 L553.03 138.96 L553.99 139.42 L554.95 139.92 L555.9 140.46 L556.86 141.02 L557.82 141.62 L558.77 142.24 L559.73 142.89 L560.69 143.67 L561.64 144.82 L562.6 146.28 L563.56 147.99 L564.51 149.89 L565.47 151.94 L566.43 154.05 L567.38 156.19 L568.34 158.29 L569.3 160.28 L570.25 162.12 L571.21 163.75 L572.17 165.28 L573.12 166.77 L574.08 168.22 L575.03 169.64 L575.99 171.04 L576.95 172.43 L577.9 173.81 L578.86 175.21 L579.82 176.66 L580.77 178.12 L581.73 179.59 L582.69 181.04 L583.64 182.44 L584.6 183.78 L585.56 185.03 L586.51 186.17 L587.47 187.18 L588.43 188.1 L589.38 188.98 L590.34 189.83 L591.3 190.63 L592.25 191.38 L593.21 192.09 L594.17 192.75 L595.12 193.36 L596.08 193.92 L597.03 194.42 L597.99 194.89 L598.95 195.33 L599.9 195.76 L600.86 196.16 L601.82 196.54 L602.77 196.89 L603.73 197.21 L604.69 197.5 L605.64 197.76 L606.6 197.98 L607.56 198.16 L608.51 198.33 L609.47 198.5 L610.43 198.66 L611.38 198.81 L612.34 198.96 L613.3 199.1 L614.25 199.24 L615.21 199.37 L616.17 199.49 L617.12 199.6 L618.08 199.7 L619.03 199.8 L619.99 199.89 L620.95 199.97 L621.9 200.05 L622.86 200.11 L623.82 200.17 L624.77 200.22 L625.73 200.26 L626.69 200.29 L627.64 200.33 L628.6 200.36 L629.56 200.39 L630.51 200.42 L631.47 200.45 L632.43 200.48 L633.38 200.51 L634.34 200.53 L635.3 200.56 L636.25 200.58 L637.21 200.61 L638.17 200.63 L639.12 200.65 L640.08 200.67 L641.03 200.68 L641.99 200.7 L642.95 200.71 L643.9 200.73 L644.86 200.74 L645.82 200.75 L646.77 200.76 L647.73 200.76 L648.69 200.77 L649.64 200.77 L650.6 200.77" fill="none" stroke="#f5932a" stroke-width="1.1" stroke-linejoin="round" stroke-linecap="butt" stroke-dasharray="1 1"/>
<path d="M364.6 200.9 L365.56 200.9 L366.51 200.9 L367.47 200.9 L368.43 200.9 L369.38 200.9 L370.34 200.9 L371.3 200.9 L372.25 200.9 L373.21 200.9 L374.17 200.9 L375.12 200.9 L376.08 200.9 L377.03 200.9 L377.99 200.9 L378.95 200.9 L379.9 200.9 L380.86 200.9 L381.82 200.9 L382.77 200.9 L383.73 200.9 L384.69 200.9 L385.64 200.9 L386.6 200.9 L387.56 200.9 L388.51 200.9 L389.47 200.9 L390.43 200.9 L391.38 200.9 L392.34 200.9 L393.3 200.9 L394.25 200.9 L395.21 200.9 L396.17 200.9 L397.12 200.9 L398.08 200.9 L399.03 200.9 L399.99 200.9 L400.95 200.9 L401.9 200.9 L402.86 200.9 L403.82 200.88 L404.77 200.86 L405.73 200.83 L406.69 200.79 L407.64 200.74 L408.6 200.69 L409.56 200.63 L410.51 200.57 L411.47 200.5 L412.43 200.42 L413.38 200.34 L414.34 200.26 L415.3 200.15 L416.25 200 L417.21 199.81 L418.17 199.58 L419.12 199.32 L420.08 199.03 L421.03 198.71 L421.99 198.36 L422.95 198 L423.9 197.61 L424.86 197.17 L425.82 196.62 L426.77 195.97 L427.73 195.24 L428.69 194.43 L429.64 193.57 L430.6 192.66 L431.56 191.73 L432.51 190.78 L433.47 189.83 L434.43 188.89 L435.38 187.98 L436.34 187.09 L437.3 186.21 L438.25 185.31 L439.21 184.41 L440.17 183.49 L441.12 182.56 L442.08 181.61 L443.03 180.64 L443.99 179.66 L444.95 178.65 L445.9 177.62 L446.86 176.57 L447.82 175.49 L448.77 174.36 L449.73 173.2 L450.69 172 L451.64 170.77 L452.6 169.52 L453.56 168.24 L454.51 166.95 L455.47 165.6 L456.43 164.22 L457.38 162.8 L458.34 161.38 L459.3 159.98 L460.25 158.61 L461.21 157.23 L462.17 155.79 L463.12 154.31 L464.08 152.82 L465.03 151.36 L465.99 149.94 L466.95 148.61 L467.9 147.38 L468.86 146.29 L469.82 145.36 L470.77 144.61 L471.73 143.92 L472.69 143.26 L473.64 142.64 L474.6 142.05 L475.56 141.49 L476.51 140.97 L477.47 140.47 L478.43 139.99 L479.38 139.54 L480.34 139.11 L481.3 138.7 L482.25 138.31 L483.21 137.93 L484.17 137.57 L485.12 137.22 L486.08 136.88 L487.03 136.54 L487.99 136.22 L488.95 135.89 L489.9 135.57 L490.86 135.25 L491.82 134.95 L492.77 134.65 L493.73 134.37 L494.69 134.1 L495.64 133.85 L496.6 133.61 L497.56 133.39 L498.51 133.2 L499.47 133.03 L500.43 132.88 L501.38 132.76 L502.34 132.65 L503.3 132.55 L504.25 132.44 L505.21 132.35 L506.17 132.25 L507.12 132.16 L508.08 132.07 L509.03 131.99 L509.99 131.91 L510.95 131.84 L511.9 131.77 L512.86 131.71 L513.82 131.65 L514.77 131.6 L515.73 131.56 L516.69 131.53 L517.64 131.5 L518.6 131.48 L519.56 131.47 L520.51 131.47 L521.47 131.47 L522.43 131.47 L523.38 131.47 L524.34 131.47 L525.3 131.47 L526.25 131.47 L527.21 131.47 L528.17 131.47 L529.12 131.47 L530.08 131.47 L531.03 131.47 L531.99 131.47 L532.95 131.47 L533.9 131.47 L534.86 131.47 L535.82 131.47 L536.77 131.47 L537.73 131.47 L538.69 131.47 L539.64 131.47 L540.6 131.47 L541.56 131.47 L542.51 131.47 L543.47 131.47 L544.43 131.47 L545.38 131.47 L546.34 131.47 L547.3 131.47 L548.25 131.47 L549.21 131.47 L550.17 131.47 L551.12 131.47 L552.08 131.5 L553.03 131.58 L553.99 131.72 L554.95 131.9 L555.9 132.13 L556.86 132.39 L557.82 132.69 L558.77 133.02 L559.73 133.38 L560.69 133.76 L561.64 134.16 L562.6 134.57 L563.56 135 L564.51 135.43 L565.47 135.86 L566.43 136.37 L567.38 136.97 L568.34 137.67 L569.3 138.44 L570.25 139.25 L571.21 140.11 L572.17 140.97 L573.12 141.84 L574.08 142.68 L575.03 143.5 L575.99 144.3 L576.95 145.11 L577.9 145.92 L578.86 146.75 L579.82 147.6 L580.77 148.48 L581.73 149.39 L582.69 150.34 L583.64 151.34 L584.6 152.4 L585.56 153.53 L586.51 154.73 L587.47 155.97 L588.43 157.25 L589.38 158.56 L590.34 159.88 L591.3 161.2 L592.25 162.52 L593.21 163.82 L594.17 165.16 L595.12 166.54 L596.08 167.94 L597.03 169.36 L597.99 170.75 L598.95 172.12 L599.9 173.45 L600.86 174.71 L601.82 175.89 L602.77 177.01 L603.73 178.09 L604.69 179.15 L605.64 180.17 L606.6 181.17 L607.56 182.14 L608.51 183.08 L609.47 184 L610.43 184.88 L611.38 185.73 L612.34 186.55 L613.3 187.35 L614.25 188.13 L615.21 188.9 L616.17 189.65 L617.12 190.38 L618.08 191.07 L619.03 191.73 L619.99 192.34 L620.95 192.9 L621.9 193.4 L622.86 193.85 L623.82 194.28 L624.77 194.7 L625.73 195.09 L626.69 195.46 L627.64 195.8 L628.6 196.12 L629.56 196.42 L630.51 196.69 L631.47 196.93 L632.43 197.15 L633.38 197.36 L634.34 197.57 L635.3 197.78 L636.25 197.98 L637.21 198.18 L638.17 198.37 L639.12 198.56 L640.08 198.73 L641.03 198.9 L641.99 199.06 L642.95 199.21 L643.9 199.34 L644.86 199.47 L645.82 199.57 L646.77 199.67 L647.73 199.74 L648.69 199.81 L649.64 199.85 L650.6 199.87" fill="none" stroke="#1ec3cf" stroke-width="1.6" stroke-linejoin="round" stroke-linecap="butt" stroke-dasharray="6 2.8 2 3 2.2 2.8"/>
<path d="M364.6 200.9 L365.56 200.9 L366.51 200.9 L367.47 200.9 L368.43 200.9 L369.38 200.9 L370.34 200.9 L371.3 200.9 L372.25 200.9 L373.21 200.9 L374.17 200.9 L375.12 200.9 L376.08 200.9 L377.03 200.9 L377.99 200.9 L378.95 200.9 L379.9 200.9 L380.86 200.9 L381.82 200.9 L382.77 200.9 L383.73 200.9 L384.69 200.9 L385.64 200.9 L386.6 200.9 L387.56 200.9 L388.51 200.9 L389.47 200.9 L390.43 200.9 L391.38 200.9 L392.34 200.9 L393.3 200.9 L394.25 200.9 L395.21 200.9 L396.17 200.9 L397.12 200.9 L398.08 200.9 L399.03 200.9 L399.99 200.9 L400.95 200.9 L401.9 200.9 L402.86 200.89 L403.82 200.87 L404.77 200.82 L405.73 200.76 L406.69 200.69 L407.64 200.6 L408.6 200.5 L409.56 200.38 L410.51 200.25 L411.47 200.11 L412.43 199.96 L413.38 199.79 L414.34 199.61 L415.3 199.34 L416.25 198.89 L417.21 198.3 L418.17 197.62 L419.12 196.86 L420.08 196.07 L421.03 195.28 L421.99 194.52 L422.95 193.77 L423.9 192.98 L424.86 192.16 L425.82 191.32 L426.77 190.45 L427.73 189.55 L428.69 188.65 L429.64 187.73 L430.6 186.81 L431.56 185.89 L432.51 184.97 L433.47 184.05 L434.43 183.15 L435.38 182.24 L436.34 181.32 L437.3 180.4 L438.25 179.47 L439.21 178.54 L440.17 177.6 L441.12 176.65 L442.08 175.71 L443.03 174.75 L443.99 173.8 L444.95 172.84 L445.9 171.87 L446.86 170.91 L447.82 169.94 L448.77 168.96 L449.73 167.97 L450.69 166.98 L451.64 165.97 L452.6 164.96 L453.56 163.92 L454.51 162.83 L455.47 161.71 L456.43 160.6 L457.38 159.51 L458.34 158.47 L459.3 157.51 L460.25 156.59 L461.21 155.67 L462.17 154.75 L463.12 153.85 L464.08 152.97 L465.03 152.11 L465.99 151.28 L466.95 150.48 L467.9 149.72 L468.86 149 L469.82 148.32 L470.77 147.7 L471.73 147.14 L472.69 146.62 L473.64 146.12 L474.6 145.63 L475.56 145.16 L476.51 144.7 L477.47 144.25 L478.43 143.81 L479.38 143.4 L480.34 143 L481.3 142.62 L482.25 142.27 L483.21 141.93 L484.17 141.62 L485.12 141.34 L486.08 141.08 L487.03 140.85 L487.99 140.64 L488.95 140.47 L489.9 140.32 L490.86 140.16 L491.82 140.01 L492.77 139.86 L493.73 139.72 L494.69 139.58 L495.64 139.45 L496.6 139.33 L497.56 139.21 L498.51 139.1 L499.47 138.99 L500.43 138.9 L501.38 138.82 L502.34 138.74 L503.3 138.68 L504.25 138.63 L505.21 138.59 L506.17 138.56 L507.12 138.54 L508.08 138.54 L509.03 138.54 L509.99 138.54 L510.95 138.54 L511.9 138.54 L512.86 138.54 L513.82 138.54 L514.77 138.54 L515.73 138.54 L516.69 138.54 L517.64 138.54 L518.6 138.54 L519.56 138.54 L520.51 138.54 L521.47 138.54 L522.43 138.54 L523.38 138.54 L524.34 138.54 L525.3 138.54 L526.25 138.54 L527.21 138.54 L528.17 138.54 L529.12 138.54 L530.08 138.54 L531.03 138.54 L531.99 138.54 L532.95 138.54 L533.9 138.54 L534.86 138.54 L535.82 138.54 L536.77 138.54 L537.73 138.54 L538.69 138.54 L539.64 138.54 L540.6 138.54 L541.56 138.54 L542.51 138.54 L543.47 138.54 L544.43 138.54 L545.38 138.54 L546.34 138.54 L547.3 138.54 L548.25 138.54 L549.21 138.54 L550.17 138.54 L551.12 138.54 L552.08 138.56 L553.03 138.59 L553.99 138.65 L554.95 138.73 L555.9 138.83 L556.86 138.95 L557.82 139.09 L558.77 139.24 L559.73 139.4 L560.69 139.69 L561.64 140.3 L562.6 141.21 L563.56 142.35 L564.51 143.67 L565.47 145.12 L566.43 146.66 L567.38 148.22 L568.34 149.75 L569.3 151.21 L570.25 152.54 L571.21 153.69 L572.17 154.77 L573.12 155.82 L574.08 156.85 L575.03 157.85 L575.99 158.85 L576.95 159.84 L577.9 160.83 L578.86 161.82 L579.82 162.83 L580.77 163.85 L581.73 164.9 L582.69 165.98 L583.64 167.11 L584.6 168.26 L585.56 169.44 L586.51 170.62 L587.47 171.81 L588.43 172.98 L589.38 174.13 L590.34 175.25 L591.3 176.33 L592.25 177.35 L593.21 178.32 L594.17 179.26 L595.12 180.19 L596.08 181.1 L597.03 182 L597.99 182.88 L598.95 183.73 L599.9 184.56 L600.86 185.37 L601.82 186.14 L602.77 186.89 L603.73 187.6 L604.69 188.27 L605.64 188.9 L606.6 189.51 L607.56 190.1 L608.51 190.68 L609.47 191.25 L610.43 191.8 L611.38 192.34 L612.34 192.86 L613.3 193.36 L614.25 193.84 L615.21 194.29 L616.17 194.72 L617.12 195.13 L618.08 195.51 L619.03 195.86 L619.99 196.19 L620.95 196.48 L621.9 196.77 L622.86 197.05 L623.82 197.31 L624.77 197.56 L625.73 197.8 L626.69 198.03 L627.64 198.24 L628.6 198.43 L629.56 198.61 L630.51 198.77 L631.47 198.91 L632.43 199.03 L633.38 199.15 L634.34 199.27 L635.3 199.39 L636.25 199.5 L637.21 199.61 L638.17 199.72 L639.12 199.82 L640.08 199.92 L641.03 200.02 L641.99 200.1 L642.95 200.18 L643.9 200.26 L644.86 200.32 L645.82 200.38 L646.77 200.43 L647.73 200.46 L648.69 200.49 L649.64 200.51 L650.6 200.51" fill="none" stroke="#d83ce6" stroke-width="1.5" stroke-linejoin="round" stroke-linecap="butt" stroke-dasharray="4 2 1 1.8"/>
</g>
<line x1="360.6" y1="200.9" x2="364.6" y2="200.9" stroke="#3a3a3a" stroke-width="1.1"/>
<text x="358.4" y="204.5" font-size="10" font-weight="normal" font-style="normal" text-anchor="end" fill="#1a1a1a">0</text>
<line x1="360.6" y1="175.19" x2="364.6" y2="175.19" stroke="#3a3a3a" stroke-width="1.1"/>
<text x="358.4" y="178.79" font-size="10" font-weight="normal" font-style="normal" text-anchor="end" fill="#1a1a1a">20</text>
<line x1="360.6" y1="149.47" x2="364.6" y2="149.47" stroke="#3a3a3a" stroke-width="1.1"/>
<text x="358.4" y="153.07" font-size="10" font-weight="normal" font-style="normal" text-anchor="end" fill="#1a1a1a">40</text>
<line x1="360.6" y1="123.76" x2="364.6" y2="123.76" stroke="#3a3a3a" stroke-width="1.1"/>
<text x="358.4" y="127.36" font-size="10" font-weight="normal" font-style="normal" text-anchor="end" fill="#1a1a1a">60</text>
<line x1="360.6" y1="98.04" x2="364.6" y2="98.04" stroke="#3a3a3a" stroke-width="1.1"/>
<text x="358.4" y="101.64" font-size="10" font-weight="normal" font-style="normal" text-anchor="end" fill="#1a1a1a">80</text>
<line x1="360.6" y1="72.33" x2="364.6" y2="72.33" stroke="#3a3a3a" stroke-width="1.1"/>
<text x="358.4" y="75.93" font-size="10" font-weight="normal" font-style="normal" text-anchor="end" fill="#1a1a1a">100</text>
<line x1="360.6" y1="46.61" x2="364.6" y2="46.61" stroke="#3a3a3a" stroke-width="1.1"/>
<text x="358.4" y="50.21" font-size="10" font-weight="normal" font-style="normal" text-anchor="end" fill="#1a1a1a">120</text>
<line x1="362.4" y1="188.04" x2="364.6" y2="188.04" stroke="#3a3a3a" stroke-width="1.1"/>
<line x1="362.4" y1="162.33" x2="364.6" y2="162.33" stroke="#3a3a3a" stroke-width="1.1"/>
<line x1="362.4" y1="136.61" x2="364.6" y2="136.61" stroke="#3a3a3a" stroke-width="1.1"/>
<line x1="362.4" y1="110.9" x2="364.6" y2="110.9" stroke="#3a3a3a" stroke-width="1.1"/>
<line x1="362.4" y1="85.19" x2="364.6" y2="85.19" stroke="#3a3a3a" stroke-width="1.1"/>
<line x1="362.4" y1="59.47" x2="364.6" y2="59.47" stroke="#3a3a3a" stroke-width="1.1"/>
<line x1="362.4" y1="33.76" x2="364.6" y2="33.76" stroke="#3a3a3a" stroke-width="1.1"/>
<line x1="364.6" y1="201.8" x2="364.6" y2="205.4" stroke="#3a3a3a" stroke-width="1.1"/>
<text x="364.6" y="216.9" font-size="10" font-weight="normal" font-style="normal" text-anchor="middle" fill="#1a1a1a">0.0</text>
<line x1="426.77" y1="201.8" x2="426.77" y2="205.4" stroke="#3a3a3a" stroke-width="1.1"/>
<text x="426.77" y="216.9" font-size="10" font-weight="normal" font-style="normal" text-anchor="middle" fill="#1a1a1a">0.5</text>
<line x1="488.95" y1="201.8" x2="488.95" y2="205.4" stroke="#3a3a3a" stroke-width="1.1"/>
<text x="488.95" y="216.9" font-size="10" font-weight="normal" font-style="normal" text-anchor="middle" fill="#1a1a1a">1.0</text>
<line x1="551.12" y1="201.8" x2="551.12" y2="205.4" stroke="#3a3a3a" stroke-width="1.1"/>
<text x="551.12" y="216.9" font-size="10" font-weight="normal" font-style="normal" text-anchor="middle" fill="#1a1a1a">1.5</text>
<line x1="613.3" y1="201.8" x2="613.3" y2="205.4" stroke="#3a3a3a" stroke-width="1.1"/>
<text x="613.3" y="216.9" font-size="10" font-weight="normal" font-style="normal" text-anchor="middle" fill="#1a1a1a">2.0</text>
<text x="507.6" y="234.8" font-size="11.5" font-weight="bold" font-style="normal" text-anchor="middle" fill="#111">Time (h)</text>
<text transform="translate(339.6 111.7) rotate(-90)" font-size="11.5" font-weight="bold" text-anchor="middle" fill="#111">C/C<tspan font-size="7" dy="2.6">0</tspan><tspan dy="-2.6"> (%)</tspan></text>
<path d="M374.6 28.7 H394.2" fill="none" stroke="#c4c4c4" stroke-width="1.3" stroke-linejoin="round" stroke-linecap="butt"/>
<text x="394.8" y="31.7" font-size="8.4" font-weight="bold" font-style="normal" text-anchor="start" fill="#111">Conservative</text>
<path d="M374.6 40.5 H394.2" fill="none" stroke="#e01030" stroke-width="2.4" stroke-linejoin="round" stroke-linecap="butt" stroke-dasharray="2.4 7.6"/>
<text x="394.8" y="43.3" font-size="8.4" font-weight="bold" font-style="normal" text-anchor="start" fill="#111">No</text>
<text x="408" y="43.3" font-size="8.4" font-weight="bold" font-style="normal" text-anchor="start" fill="#111">K</text>
<text x="414.2" y="45.5" font-size="5.8" font-weight="normal" font-style="italic" text-anchor="start" fill="#222">d,</text>
<text x="422.6" y="43.3" font-size="8.6" font-weight="normal" font-style="normal" text-anchor="start" fill="#111">α</text>
<text x="427.6" y="46.1" font-size="5.6" font-weight="normal" font-style="normal" text-anchor="start" fill="#222">agg</text>
<text x="436.7" y="43.3" font-size="8.4" font-weight="bold" font-style="normal" text-anchor="start" fill="#111">=</text>
<text x="444.5" y="43.3" font-size="8.4" font-weight="bold" font-style="normal" text-anchor="start" fill="#111">0</text>
<path d="M374.6 54.3 H394.2" fill="none" stroke="#8a55e6" stroke-width="1.2" stroke-linejoin="round" stroke-linecap="butt" stroke-dasharray="3 1.9"/>
<text x="394.8" y="57" font-size="8.4" font-weight="bold" font-style="normal" text-anchor="start" fill="#111">No</text>
<text x="408" y="57" font-size="8.4" font-weight="bold" font-style="normal" text-anchor="start" fill="#111">K</text>
<text x="414.2" y="59.2" font-size="5.8" font-weight="normal" font-style="italic" text-anchor="start" fill="#222">d,</text>
<text x="422.6" y="57" font-size="8.6" font-weight="normal" font-style="normal" text-anchor="start" fill="#111">α</text>
<text x="427.6" y="59.8" font-size="5.6" font-weight="normal" font-style="normal" text-anchor="start" fill="#222">agg</text>
<text x="436.7" y="57" font-size="8.4" font-weight="bold" font-style="normal" text-anchor="start" fill="#111">=</text>
<text x="444.5" y="57" font-size="8.4" font-weight="bold" font-style="normal" text-anchor="start" fill="#111">1</text>
<path d="M461.6 40.5 H481.6" fill="none" stroke="#1c1ca6" stroke-width="1.6" stroke-linejoin="round" stroke-linecap="butt" stroke-dasharray="6.2 3 1.7 2.6"/>
<text x="481.6" y="43.3" font-size="8.4" font-weight="bold" font-style="normal" text-anchor="start" fill="#111">Const.</text>
<text x="510.9" y="43.3" font-size="8.4" font-weight="bold" font-style="normal" text-anchor="start" fill="#111">K</text>
<text x="516.2" y="45.5" font-size="5.8" font-weight="normal" font-style="italic" text-anchor="start" fill="#222">d,</text>
<text x="524.2" y="43.3" font-size="8.6" font-weight="normal" font-style="normal" text-anchor="start" fill="#111">α</text>
<text x="529.5" y="46.1" font-size="5.6" font-weight="normal" font-style="normal" text-anchor="start" fill="#222">agg</text>
<text x="539.1" y="43.3" font-size="8.4" font-weight="bold" font-style="normal" text-anchor="start" fill="#111">=</text>
<text x="546" y="43.3" font-size="8.4" font-weight="bold" font-style="normal" text-anchor="start" fill="#111">0</text>
<path d="M461.6 54.3 H481.6" fill="none" stroke="#f5932a" stroke-width="1.1" stroke-linejoin="round" stroke-linecap="butt" stroke-dasharray="1 1"/>
<text x="481.6" y="57" font-size="8.4" font-weight="bold" font-style="normal" text-anchor="start" fill="#111">Const.</text>
<text x="510.9" y="57" font-size="8.4" font-weight="bold" font-style="normal" text-anchor="start" fill="#111">K</text>
<text x="516.2" y="59.2" font-size="5.8" font-weight="normal" font-style="italic" text-anchor="start" fill="#222">d,</text>
<text x="524.2" y="57" font-size="8.6" font-weight="normal" font-style="normal" text-anchor="start" fill="#111">α</text>
<text x="529.5" y="59.8" font-size="5.6" font-weight="normal" font-style="normal" text-anchor="start" fill="#222">agg</text>
<text x="539.1" y="57" font-size="8.4" font-weight="bold" font-style="normal" text-anchor="start" fill="#111">=</text>
<text x="546" y="57" font-size="8.4" font-weight="bold" font-style="normal" text-anchor="start" fill="#111">1</text>
<path d="M563.4 40.5 H583.5" fill="none" stroke="#1ec3cf" stroke-width="1.6" stroke-linejoin="round" stroke-linecap="butt" stroke-dasharray="6 2.8 2 3 2.2 2.8"/>
<text x="583.4" y="43.3" font-size="8.4" font-weight="bold" font-style="normal" text-anchor="start" fill="#111">Var.</text>
<text x="602" y="43.3" font-size="8.4" font-weight="bold" font-style="normal" text-anchor="start" fill="#111">K</text>
<text x="607.8" y="45.5" font-size="5.8" font-weight="normal" font-style="italic" text-anchor="start" fill="#222">d,</text>
<text x="615.8" y="43.3" font-size="8.6" font-weight="normal" font-style="normal" text-anchor="start" fill="#111">α</text>
<text x="621.1" y="46.1" font-size="5.6" font-weight="normal" font-style="normal" text-anchor="start" fill="#222">agg</text>
<text x="630.7" y="43.3" font-size="8.4" font-weight="bold" font-style="normal" text-anchor="start" fill="#111">=</text>
<text x="637.6" y="43.3" font-size="8.4" font-weight="bold" font-style="normal" text-anchor="start" fill="#111">0</text>
<path d="M563.4 54.3 H583.5" fill="none" stroke="#d83ce6" stroke-width="1.5" stroke-linejoin="round" stroke-linecap="butt" stroke-dasharray="4 2 1 1.8"/>
<text x="583.4" y="57" font-size="8.4" font-weight="bold" font-style="normal" text-anchor="start" fill="#111">Var.</text>
<text x="602" y="57" font-size="8.4" font-weight="bold" font-style="normal" text-anchor="start" fill="#111">K</text>
<text x="607.8" y="59.2" font-size="5.8" font-weight="normal" font-style="italic" text-anchor="start" fill="#222">d,</text>
<text x="615.8" y="57" font-size="8.6" font-weight="normal" font-style="normal" text-anchor="start" fill="#111">α</text>
<text x="621.1" y="59.8" font-size="5.6" font-weight="normal" font-style="normal" text-anchor="start" fill="#222">agg</text>
<text x="630.7" y="57" font-size="8.4" font-weight="bold" font-style="normal" text-anchor="start" fill="#111">=</text>
<text x="637.6" y="57" font-size="8.4" font-weight="bold" font-style="normal" text-anchor="start" fill="#111">1</text>
<rect x="2.8" y="222" width="25" height="33" fill="#d9fbfc"/>
<text x="9.6" y="246.4" font-size="21.5" font-weight="bold" font-style="italic" text-anchor="start" fill="#b3111c">c</text>
<line x1="29.8" y1="246.6" x2="320.8" y2="246.6" stroke="#3a3a3a" stroke-width="1.4"/>
<line x1="320.8" y1="246.6" x2="320.8" y2="428.1" stroke="#3a3a3a" stroke-width="1.3"/>
<line x1="33.8" y1="246.6" x2="33.8" y2="428.7" stroke="#3a3a3a" stroke-width="1.4"/>
<line x1="33.2" y1="428.1" x2="321.4" y2="428.1" stroke="#3a3a3a" stroke-width="1.2"/>
<g clip-path="url(#clipc)">
<path d="M33.8 427.06 L35 427.05 L36.2 427.05 L37.4 427.04 L38.6 427.03 L39.8 427.03 L41.01 427.02 L42.21 427.01 L43.41 427.01 L44.61 427 L45.81 426.99 L47.01 426.98 L48.21 426.97 L49.41 426.97 L50.61 426.96 L51.81 426.95 L53.01 426.94 L54.21 426.93 L55.42 426.92 L56.62 426.91 L57.82 426.89 L59.02 426.88 L60.22 426.87 L61.42 426.86 L62.62 426.85 L63.82 426.83 L65.02 426.82 L66.22 426.8 L67.42 426.79 L68.62 426.77 L69.83 426.76 L71.03 426.74 L72.23 426.73 L73.43 426.71 L74.63 426.69 L75.83 426.67 L77.03 426.65 L78.23 426.63 L79.43 426.61 L80.63 426.59 L81.83 426.57 L83.03 426.55 L84.24 426.52 L85.44 426.5 L86.64 426.48 L87.84 426.45 L89.04 426.42 L90.24 426.4 L91.44 426.37 L92.64 426.34 L93.84 426.31 L95.04 426.28 L96.24 426.25 L97.44 426.21 L98.65 426.18 L99.85 426.14 L101.05 426.11 L102.25 426.07 L103.45 426.03 L104.65 425.99 L105.85 425.95 L107.05 425.91 L108.25 425.87 L109.45 425.82 L110.65 425.78 L111.85 425.73 L113.06 425.68 L114.26 425.63 L115.46 425.58 L116.66 425.53 L117.86 425.47 L119.06 425.42 L120.26 425.36 L121.46 425.3 L122.66 425.24 L123.86 425.17 L125.06 425.11 L126.26 425.04 L127.47 424.97 L128.67 424.9 L129.87 424.83 L131.07 424.76 L132.27 424.68 L133.47 424.6 L134.67 424.52 L135.87 424.44 L137.07 424.35 L138.27 424.27 L139.47 424.18 L140.67 424.08 L141.88 423.99 L143.08 423.89 L144.28 423.79 L145.48 423.69 L146.68 423.58 L147.88 423.47 L149.08 423.36 L150.28 423.25 L151.48 423.13 L152.68 423.01 L153.88 422.89 L155.08 422.76 L156.29 422.63 L157.49 422.5 L158.69 422.36 L159.89 422.22 L161.09 422.08 L162.29 421.93 L163.49 421.78 L164.69 421.63 L165.89 421.47 L167.09 421.31 L168.29 421.15 L169.49 420.98 L170.7 420.8 L171.9 420.62 L173.1 420.44 L174.3 420.26 L175.5 420.06 L176.7 419.87 L177.9 419.67 L179.1 419.47 L180.3 419.26 L181.5 419.04 L182.7 418.82 L183.9 418.6 L185.11 418.37 L186.31 418.13 L187.51 417.89 L188.71 417.65 L189.91 417.4 L191.11 417.14 L192.31 416.88 L193.51 416.61 L194.71 416.34 L195.91 416.06 L197.11 415.78 L198.31 415.49 L199.52 415.19 L200.72 414.88 L201.92 414.57 L203.12 414.26 L204.32 413.93 L205.52 413.6 L206.72 413.27 L207.92 412.92 L209.12 412.57 L210.32 412.21 L211.52 411.85 L212.72 411.48 L213.93 411.1 L215.13 410.71 L216.33 410.31 L217.53 409.91 L218.73 409.5 L219.93 409.08 L221.13 408.66 L222.33 408.22 L223.53 407.78 L224.73 407.33 L225.93 406.87 L227.13 406.4 L228.34 405.92 L229.54 405.44 L230.74 404.94 L231.94 404.44 L233.14 403.92 L234.34 403.4 L235.54 402.87 L236.74 402.33 L237.94 401.78 L239.14 401.22 L240.34 400.65 L241.54 400.07 L242.75 399.48 L243.95 398.88 L245.15 398.27 L246.35 397.65 L247.55 397.02 L248.75 396.38 L249.95 395.73 L251.15 395.07 L252.35 394.39 L253.55 393.71 L254.75 393.02 L255.95 392.31 L257.16 391.59 L258.36 390.87 L259.56 390.13 L260.76 389.38 L261.96 388.62 L263.16 387.84 L264.36 387.06 L265.56 386.26 L266.76 385.45 L267.96 384.63 L269.16 383.8 L270.36 382.95 L271.57 382.1 L272.77 381.23 L273.97 380.35 L275.17 379.45 L276.37 378.55 L277.57 377.63 L278.77 376.7 L279.97 375.76 L281.17 374.8 L282.37 373.83 L283.57 372.85 L284.77 371.86 L285.98 370.85 L287.18 369.83 L288.38 368.8 L289.58 367.75 L290.78 366.69 L291.98 365.62 L293.18 364.53 L294.38 363.43 L295.58 362.32 L296.78 361.2 L297.98 360.06 L299.18 358.9 L300.39 357.74 L301.59 356.56 L302.79 355.37 L303.99 354.16 L305.19 352.94 L306.39 351.71 L307.59 350.47 L308.79 349.21 L309.99 347.94 L311.19 346.65 L312.39 345.35 L313.59 344.04 L314.8 342.71 L316 341.37 L317.2 340.02 L318.4 338.65 L319.6 337.27 L320.8 335.88" fill="none" stroke="#c4c4c4" stroke-width="1.3" stroke-linejoin="round" stroke-linecap="butt"/>
<path d="M33.8 427.14 L35 427.14 L36.2 427.13 L37.4 427.13 L38.6 427.13 L39.8 427.13 L41.01 427.12 L42.21 427.12 L43.41 427.11 L44.61 427.11 L45.81 427.11 L47.01 427.1 L48.21 427.1 L49.41 427.09 L50.61 427.09 L51.81 427.08 L53.01 427.08 L54.21 427.07 L55.42 427.07 L56.62 427.06 L57.82 427.06 L59.02 427.05 L60.22 427.04 L61.42 427.04 L62.62 427.03 L63.82 427.02 L65.02 427.02 L66.22 427.01 L67.42 427 L68.62 426.99 L69.83 426.98 L71.03 426.98 L72.23 426.97 L73.43 426.96 L74.63 426.95 L75.83 426.94 L77.03 426.93 L78.23 426.91 L79.43 426.9 L80.63 426.89 L81.83 426.88 L83.03 426.87 L84.24 426.85 L85.44 426.84 L86.64 426.83 L87.84 426.81 L89.04 426.8 L90.24 426.78 L91.44 426.76 L92.64 426.75 L93.84 426.73 L95.04 426.71 L96.24 426.69 L97.44 426.67 L98.65 426.65 L99.85 426.63 L101.05 426.61 L102.25 426.59 L103.45 426.57 L104.65 426.55 L105.85 426.52 L107.05 426.5 L108.25 426.47 L109.45 426.44 L110.65 426.42 L111.85 426.39 L113.06 426.36 L114.26 426.33 L115.46 426.3 L116.66 426.27 L117.86 426.23 L119.06 426.2 L120.26 426.17 L121.46 426.13 L122.66 426.09 L123.86 426.05 L125.06 426.02 L126.26 425.97 L127.47 425.93 L128.67 425.89 L129.87 425.85 L131.07 425.8 L132.27 425.75 L133.47 425.71 L134.67 425.66 L135.87 425.61 L137.07 425.55 L138.27 425.5 L139.47 425.44 L140.67 425.39 L141.88 425.33 L143.08 425.27 L144.28 425.21 L145.48 425.14 L146.68 425.08 L147.88 425.01 L149.08 424.94 L150.28 424.87 L151.48 424.8 L152.68 424.73 L153.88 424.65 L155.08 424.57 L156.29 424.49 L157.49 424.41 L158.69 424.33 L159.89 424.24 L161.09 424.15 L162.29 424.06 L163.49 423.97 L164.69 423.87 L165.89 423.78 L167.09 423.68 L168.29 423.58 L169.49 423.47 L170.7 423.36 L171.9 423.26 L173.1 423.14 L174.3 423.03 L175.5 422.91 L176.7 422.79 L177.9 422.67 L179.1 422.54 L180.3 422.42 L181.5 422.29 L182.7 422.15 L183.9 422.01 L185.11 421.88 L186.31 421.73 L187.51 421.59 L188.71 421.44 L189.91 421.29 L191.11 421.13 L192.31 420.97 L193.51 420.81 L194.71 420.65 L195.91 420.48 L197.11 420.31 L198.31 420.13 L199.52 419.95 L200.72 419.77 L201.92 419.59 L203.12 419.4 L204.32 419.21 L205.52 419.01 L206.72 418.81 L207.92 418.61 L209.12 418.4 L210.32 418.19 L211.52 417.98 L212.72 417.76 L213.93 417.54 L215.13 417.31 L216.33 417.08 L217.53 416.85 L218.73 416.61 L219.93 416.37 L221.13 416.12 L222.33 415.87 L223.53 415.62 L224.73 415.36 L225.93 415.1 L227.13 414.83 L228.34 414.56 L229.54 414.28 L230.74 414 L231.94 413.72 L233.14 413.43 L234.34 413.14 L235.54 412.85 L236.74 412.55 L237.94 412.24 L239.14 411.93 L240.34 411.62 L241.54 411.3 L242.75 410.98 L243.95 410.65 L245.15 410.32 L246.35 409.99 L247.55 409.65 L248.75 409.3 L249.95 408.96 L251.15 408.6 L252.35 408.25 L253.55 407.88 L254.75 407.52 L255.95 407.15 L257.16 406.77 L258.36 406.4 L259.56 406.01 L260.76 405.63 L261.96 405.23 L263.16 404.84 L264.36 404.44 L265.56 404.03 L266.76 403.62 L267.96 403.21 L269.16 402.79 L270.36 402.37 L271.57 401.95 L272.77 401.52 L273.97 401.09 L275.17 400.65 L276.37 400.21 L277.57 399.76 L278.77 399.31 L279.97 398.86 L281.17 398.4 L282.37 397.94 L283.57 397.48 L284.77 397.01 L285.98 396.54 L287.18 396.06 L288.38 395.58 L289.58 395.1 L290.78 394.61 L291.98 394.13 L293.18 393.63 L294.38 393.14 L295.58 392.64 L296.78 392.14 L297.98 391.63 L299.18 391.12 L300.39 390.61 L301.59 390.1 L302.79 389.58 L303.99 389.06 L305.19 388.54 L306.39 388.01 L307.59 387.48 L308.79 386.95 L309.99 386.42 L311.19 385.88 L312.39 385.35 L313.59 384.81 L314.8 384.27 L316 383.72 L317.2 383.18 L318.4 382.63 L319.6 382.08 L320.8 381.53" fill="none" stroke="#e01030" stroke-width="2.4" stroke-linejoin="round" stroke-linecap="butt" stroke-dasharray="2.4 7.6"/>
<path d="M33.8 427.14 L35 427.14 L36.2 427.13 L37.4 427.13 L38.6 427.13 L39.8 427.13 L41.01 427.12 L42.21 427.12 L43.41 427.11 L44.61 427.11 L45.81 427.11 L47.01 427.1 L48.21 427.1 L49.41 427.09 L50.61 427.09 L51.81 427.08 L53.01 427.08 L54.21 427.07 L55.42 427.07 L56.62 427.06 L57.82 427.06 L59.02 427.05 L60.22 427.04 L61.42 427.04 L62.62 427.03 L63.82 427.02 L65.02 427.02 L66.22 427.01 L67.42 427 L68.62 426.99 L69.83 426.98 L71.03 426.98 L72.23 426.97 L73.43 426.96 L74.63 426.95 L75.83 426.94 L77.03 426.93 L78.23 426.91 L79.43 426.9 L80.63 426.89 L81.83 426.88 L83.03 426.87 L84.24 426.85 L85.44 426.84 L86.64 426.83 L87.84 426.81 L89.04 426.8 L90.24 426.78 L91.44 426.76 L92.64 426.75 L93.84 426.73 L95.04 426.71 L96.24 426.69 L97.44 426.67 L98.65 426.65 L99.85 426.63 L101.05 426.61 L102.25 426.59 L103.45 426.57 L104.65 426.55 L105.85 426.52 L107.05 426.5 L108.25 426.47 L109.45 426.44 L110.65 426.42 L111.85 426.39 L113.06 426.36 L114.26 426.33 L115.46 426.3 L116.66 426.27 L117.86 426.23 L119.06 426.2 L120.26 426.17 L121.46 426.13 L122.66 426.09 L123.86 426.05 L125.06 426.02 L126.26 425.97 L127.47 425.93 L128.67 425.89 L129.87 425.85 L131.07 425.8 L132.27 425.75 L133.47 425.71 L134.67 425.66 L135.87 425.61 L137.07 425.55 L138.27 425.5 L139.47 425.44 L140.67 425.39 L141.88 425.33 L143.08 425.27 L144.28 425.21 L145.48 425.14 L146.68 425.08 L147.88 425.01 L149.08 424.94 L150.28 424.87 L151.48 424.8 L152.68 424.73 L153.88 424.65 L155.08 424.57 L156.29 424.49 L157.49 424.41 L158.69 424.33 L159.89 424.24 L161.09 424.15 L162.29 424.06 L163.49 423.97 L164.69 423.87 L165.89 423.78 L167.09 423.68 L168.29 423.58 L169.49 423.47 L170.7 423.36 L171.9 423.26 L173.1 423.14 L174.3 423.03 L175.5 422.91 L176.7 422.79 L177.9 422.67 L179.1 422.54 L180.3 422.42 L181.5 422.29 L182.7 422.15 L183.9 422.01 L185.11 421.88 L186.31 421.73 L187.51 421.59 L188.71 421.44 L189.91 421.29 L191.11 421.13 L192.31 420.97 L193.51 420.81 L194.71 420.65 L195.91 420.48 L197.11 420.31 L198.31 420.13 L199.52 419.95 L200.72 419.77 L201.92 419.59 L203.12 419.4 L204.32 419.21 L205.52 419.01 L206.72 418.81 L207.92 418.61 L209.12 418.4 L210.32 418.19 L211.52 417.98 L212.72 417.76 L213.93 417.54 L215.13 417.31 L216.33 417.08 L217.53 416.85 L218.73 416.61 L219.93 416.37 L221.13 416.12 L222.33 415.87 L223.53 415.62 L224.73 415.36 L225.93 415.1 L227.13 414.83 L228.34 414.56 L229.54 414.28 L230.74 414 L231.94 413.72 L233.14 413.43 L234.34 413.14 L235.54 412.85 L236.74 412.55 L237.94 412.24 L239.14 411.93 L240.34 411.62 L241.54 411.3 L242.75 410.98 L243.95 410.65 L245.15 410.32 L246.35 409.99 L247.55 409.65 L248.75 409.3 L249.95 408.96 L251.15 408.6 L252.35 408.25 L253.55 407.88 L254.75 407.52 L255.95 407.15 L257.16 406.77 L258.36 406.4 L259.56 406.01 L260.76 405.63 L261.96 405.23 L263.16 404.84 L264.36 404.44 L265.56 404.03 L266.76 403.62 L267.96 403.21 L269.16 402.79 L270.36 402.37 L271.57 401.95 L272.77 401.52 L273.97 401.09 L275.17 400.65 L276.37 400.21 L277.57 399.76 L278.77 399.31 L279.97 398.86 L281.17 398.4 L282.37 397.94 L283.57 397.48 L284.77 397.01 L285.98 396.54 L287.18 396.06 L288.38 395.58 L289.58 395.1 L290.78 394.61 L291.98 394.13 L293.18 393.63 L294.38 393.14 L295.58 392.64 L296.78 392.14 L297.98 391.63 L299.18 391.12 L300.39 390.61 L301.59 390.1 L302.79 389.58 L303.99 389.06 L305.19 388.54 L306.39 388.01 L307.59 387.48 L308.79 386.95 L309.99 386.42 L311.19 385.88 L312.39 385.35 L313.59 384.81 L314.8 384.27 L316 383.72 L317.2 383.18 L318.4 382.63 L319.6 382.08 L320.8 381.53" fill="none" stroke="#8a55e6" stroke-width="1.2" stroke-linejoin="round" stroke-linecap="butt" stroke-dasharray="3 1.9"/>
<path d="M33.8 427.07 L35 427.06 L36.2 427.06 L37.4 427.05 L38.6 427.04 L39.8 427.04 L41.01 427.03 L42.21 427.02 L43.41 427.01 L44.61 427 L45.81 427 L47.01 426.99 L48.21 426.98 L49.41 426.97 L50.61 426.96 L51.81 426.95 L53.01 426.93 L54.21 426.92 L55.42 426.91 L56.62 426.9 L57.82 426.89 L59.02 426.87 L60.22 426.86 L61.42 426.84 L62.62 426.83 L63.82 426.81 L65.02 426.8 L66.22 426.78 L67.42 426.76 L68.62 426.74 L69.83 426.73 L71.03 426.71 L72.23 426.69 L73.43 426.66 L74.63 426.64 L75.83 426.62 L77.03 426.6 L78.23 426.57 L79.43 426.55 L80.63 426.52 L81.83 426.49 L83.03 426.46 L84.24 426.43 L85.44 426.4 L86.64 426.37 L87.84 426.34 L89.04 426.31 L90.24 426.27 L91.44 426.24 L92.64 426.2 L93.84 426.16 L95.04 426.12 L96.24 426.08 L97.44 426.03 L98.65 425.99 L99.85 425.94 L101.05 425.9 L102.25 425.85 L103.45 425.8 L104.65 425.74 L105.85 425.69 L107.05 425.63 L108.25 425.58 L109.45 425.52 L110.65 425.46 L111.85 425.39 L113.06 425.33 L114.26 425.26 L115.46 425.19 L116.66 425.12 L117.86 425.04 L119.06 424.96 L120.26 424.89 L121.46 424.8 L122.66 424.72 L123.86 424.63 L125.06 424.54 L126.26 424.45 L127.47 424.35 L128.67 424.26 L129.87 424.16 L131.07 424.05 L132.27 423.94 L133.47 423.83 L134.67 423.72 L135.87 423.6 L137.07 423.48 L138.27 423.36 L139.47 423.23 L140.67 423.1 L141.88 422.96 L143.08 422.82 L144.28 422.68 L145.48 422.53 L146.68 422.38 L147.88 422.23 L149.08 422.07 L150.28 421.9 L151.48 421.74 L152.68 421.56 L153.88 421.38 L155.08 421.2 L156.29 421.01 L157.49 420.82 L158.69 420.62 L159.89 420.42 L161.09 420.21 L162.29 420 L163.49 419.78 L164.69 419.55 L165.89 419.32 L167.09 419.09 L168.29 418.84 L169.49 418.6 L170.7 418.34 L171.9 418.08 L173.1 417.81 L174.3 417.54 L175.5 417.26 L176.7 416.97 L177.9 416.68 L179.1 416.37 L180.3 416.06 L181.5 415.75 L182.7 415.43 L183.9 415.09 L185.11 414.76 L186.31 414.41 L187.51 414.05 L188.71 413.69 L189.91 413.32 L191.11 412.94 L192.31 412.56 L193.51 412.16 L194.71 411.75 L195.91 411.34 L197.11 410.92 L198.31 410.49 L199.52 410.05 L200.72 409.6 L201.92 409.14 L203.12 408.67 L204.32 408.19 L205.52 407.7 L206.72 407.2 L207.92 406.7 L209.12 406.18 L210.32 405.65 L211.52 405.11 L212.72 404.56 L213.93 404 L215.13 403.43 L216.33 402.85 L217.53 402.25 L218.73 401.65 L219.93 401.03 L221.13 400.4 L222.33 399.77 L223.53 399.12 L224.73 398.45 L225.93 397.78 L227.13 397.09 L228.34 396.4 L229.54 395.69 L230.74 394.96 L231.94 394.23 L233.14 393.48 L234.34 392.72 L235.54 391.95 L236.74 391.16 L237.94 390.36 L239.14 389.55 L240.34 388.73 L241.54 387.89 L242.75 387.04 L243.95 386.18 L245.15 385.3 L246.35 384.41 L247.55 383.51 L248.75 382.59 L249.95 381.66 L251.15 380.71 L252.35 379.75 L253.55 378.78 L254.75 377.79 L255.95 376.79 L257.16 375.78 L258.36 374.75 L259.56 373.71 L260.76 372.65 L261.96 371.58 L263.16 370.5 L264.36 369.4 L265.56 368.29 L266.76 367.16 L267.96 366.02 L269.16 364.86 L270.36 363.69 L271.57 362.51 L272.77 361.31 L273.97 360.1 L275.17 358.88 L276.37 357.64 L277.57 356.38 L278.77 355.12 L279.97 353.83 L281.17 352.54 L282.37 351.23 L283.57 349.9 L284.77 348.57 L285.98 347.22 L287.18 345.85 L288.38 344.47 L289.58 343.08 L290.78 341.68 L291.98 340.26 L293.18 338.83 L294.38 337.38 L295.58 335.92 L296.78 334.45 L297.98 332.97 L299.18 331.47 L300.39 329.96 L301.59 328.44 L302.79 326.9 L303.99 325.36 L305.19 323.8 L306.39 322.23 L307.59 320.65 L308.79 319.05 L309.99 317.45 L311.19 315.83 L312.39 314.2 L313.59 312.56 L314.8 310.91 L316 309.25 L317.2 307.58 L318.4 305.9 L319.6 304.21 L320.8 302.51" fill="none" stroke="#3d33a8" stroke-width="1.4" stroke-linejoin="round" stroke-linecap="butt" stroke-dasharray="2.8 1.9"/>
<path d="M33.8 427.07 L35 427.06 L36.2 427.06 L37.4 427.05 L38.6 427.04 L39.8 427.04 L41.01 427.03 L42.21 427.02 L43.41 427.01 L44.61 427 L45.81 427 L47.01 426.99 L48.21 426.98 L49.41 426.97 L50.61 426.96 L51.81 426.95 L53.01 426.93 L54.21 426.92 L55.42 426.91 L56.62 426.9 L57.82 426.89 L59.02 426.87 L60.22 426.86 L61.42 426.84 L62.62 426.83 L63.82 426.81 L65.02 426.8 L66.22 426.78 L67.42 426.76 L68.62 426.74 L69.83 426.73 L71.03 426.71 L72.23 426.69 L73.43 426.66 L74.63 426.64 L75.83 426.62 L77.03 426.6 L78.23 426.57 L79.43 426.55 L80.63 426.52 L81.83 426.49 L83.03 426.46 L84.24 426.43 L85.44 426.4 L86.64 426.37 L87.84 426.34 L89.04 426.31 L90.24 426.27 L91.44 426.24 L92.64 426.2 L93.84 426.16 L95.04 426.12 L96.24 426.08 L97.44 426.03 L98.65 425.99 L99.85 425.94 L101.05 425.9 L102.25 425.85 L103.45 425.8 L104.65 425.74 L105.85 425.69 L107.05 425.63 L108.25 425.58 L109.45 425.52 L110.65 425.46 L111.85 425.39 L113.06 425.33 L114.26 425.26 L115.46 425.19 L116.66 425.12 L117.86 425.04 L119.06 424.96 L120.26 424.89 L121.46 424.8 L122.66 424.72 L123.86 424.63 L125.06 424.54 L126.26 424.45 L127.47 424.35 L128.67 424.26 L129.87 424.16 L131.07 424.05 L132.27 423.94 L133.47 423.83 L134.67 423.72 L135.87 423.6 L137.07 423.48 L138.27 423.36 L139.47 423.23 L140.67 423.1 L141.88 422.96 L143.08 422.82 L144.28 422.68 L145.48 422.53 L146.68 422.38 L147.88 422.23 L149.08 422.07 L150.28 421.9 L151.48 421.74 L152.68 421.56 L153.88 421.38 L155.08 421.2 L156.29 421.01 L157.49 420.82 L158.69 420.62 L159.89 420.42 L161.09 420.21 L162.29 420 L163.49 419.78 L164.69 419.55 L165.89 419.32 L167.09 419.09 L168.29 418.84 L169.49 418.6 L170.7 418.34 L171.9 418.08 L173.1 417.81 L174.3 417.54 L175.5 417.26 L176.7 416.97 L177.9 416.68 L179.1 416.37 L180.3 416.06 L181.5 415.75 L182.7 415.43 L183.9 415.09 L185.11 414.76 L186.31 414.41 L187.51 414.05 L188.71 413.69 L189.91 413.32 L191.11 412.94 L192.31 412.56 L193.51 412.16 L194.71 411.75 L195.91 411.34 L197.11 410.92 L198.31 410.49 L199.52 410.05 L200.72 409.6 L201.92 409.14 L203.12 408.67 L204.32 408.19 L205.52 407.7 L206.72 407.2 L207.92 406.7 L209.12 406.18 L210.32 405.65 L211.52 405.11 L212.72 404.56 L213.93 404 L215.13 403.43 L216.33 402.85 L217.53 402.25 L218.73 401.65 L219.93 401.03 L221.13 400.4 L222.33 399.77 L223.53 399.12 L224.73 398.45 L225.93 397.78 L227.13 397.09 L228.34 396.4 L229.54 395.69 L230.74 394.96 L231.94 394.23 L233.14 393.48 L234.34 392.72 L235.54 391.95 L236.74 391.16 L237.94 390.36 L239.14 389.55 L240.34 388.73 L241.54 387.89 L242.75 387.04 L243.95 386.18 L245.15 385.3 L246.35 384.41 L247.55 383.51 L248.75 382.59 L249.95 381.66 L251.15 380.71 L252.35 379.75 L253.55 378.78 L254.75 377.79 L255.95 376.79 L257.16 375.78 L258.36 374.75 L259.56 373.71 L260.76 372.65 L261.96 371.58 L263.16 370.5 L264.36 369.4 L265.56 368.29 L266.76 367.16 L267.96 366.02 L269.16 364.86 L270.36 363.69 L271.57 362.51 L272.77 361.31 L273.97 360.1 L275.17 358.88 L276.37 357.64 L277.57 356.38 L278.77 355.12 L279.97 353.83 L281.17 352.54 L282.37 351.23 L283.57 349.9 L284.77 348.57 L285.98 347.22 L287.18 345.85 L288.38 344.47 L289.58 343.08 L290.78 341.68 L291.98 340.26 L293.18 338.83 L294.38 337.38 L295.58 335.92 L296.78 334.45 L297.98 332.97 L299.18 331.47 L300.39 329.96 L301.59 328.44 L302.79 326.9 L303.99 325.36 L305.19 323.8 L306.39 322.23 L307.59 320.65 L308.79 319.05 L309.99 317.45 L311.19 315.83 L312.39 314.2 L313.59 312.56 L314.8 310.91 L316 309.25 L317.2 307.58 L318.4 305.9 L319.6 304.21 L320.8 302.51" fill="none" stroke="#f5932a" stroke-width="1.1" stroke-linejoin="round" stroke-linecap="butt" stroke-dasharray="1 1"/>
<path d="M33.8 427.13 L35 427.13 L36.2 427.13 L37.4 427.12 L38.6 427.12 L39.8 427.12 L41.01 427.11 L42.21 427.11 L43.41 427.11 L44.61 427.1 L45.81 427.1 L47.01 427.09 L48.21 427.09 L49.41 427.08 L50.61 427.08 L51.81 427.07 L53.01 427.06 L54.21 427.06 L55.42 427.05 L56.62 427.05 L57.82 427.04 L59.02 427.03 L60.22 427.02 L61.42 427.02 L62.62 427.01 L63.82 427 L65.02 426.99 L66.22 426.98 L67.42 426.97 L68.62 426.96 L69.83 426.95 L71.03 426.94 L72.23 426.93 L73.43 426.92 L74.63 426.91 L75.83 426.9 L77.03 426.88 L78.23 426.87 L79.43 426.86 L80.63 426.84 L81.83 426.83 L83.03 426.81 L84.24 426.8 L85.44 426.78 L86.64 426.76 L87.84 426.75 L89.04 426.73 L90.24 426.71 L91.44 426.69 L92.64 426.67 L93.84 426.65 L95.04 426.63 L96.24 426.6 L97.44 426.58 L98.65 426.56 L99.85 426.53 L101.05 426.51 L102.25 426.48 L103.45 426.45 L104.65 426.42 L105.85 426.39 L107.05 426.36 L108.25 426.33 L109.45 426.3 L110.65 426.27 L111.85 426.23 L113.06 426.2 L114.26 426.16 L115.46 426.12 L116.66 426.08 L117.86 426.04 L119.06 426 L120.26 425.96 L121.46 425.91 L122.66 425.87 L123.86 425.82 L125.06 425.77 L126.26 425.72 L127.47 425.67 L128.67 425.62 L129.87 425.56 L131.07 425.51 L132.27 425.45 L133.47 425.39 L134.67 425.33 L135.87 425.27 L137.07 425.2 L138.27 425.13 L139.47 425.07 L140.67 424.99 L141.88 424.92 L143.08 424.85 L144.28 424.77 L145.48 424.69 L146.68 424.61 L147.88 424.53 L149.08 424.44 L150.28 424.36 L151.48 424.27 L152.68 424.18 L153.88 424.08 L155.08 423.98 L156.29 423.88 L157.49 423.78 L158.69 423.68 L159.89 423.57 L161.09 423.46 L162.29 423.35 L163.49 423.23 L164.69 423.11 L165.89 422.99 L167.09 422.87 L168.29 422.74 L169.49 422.61 L170.7 422.48 L171.9 422.34 L173.1 422.2 L174.3 422.06 L175.5 421.91 L176.7 421.77 L177.9 421.61 L179.1 421.46 L180.3 421.3 L181.5 421.13 L182.7 420.97 L183.9 420.8 L185.11 420.62 L186.31 420.45 L187.51 420.27 L188.71 420.08 L189.91 419.89 L191.11 419.7 L192.31 419.5 L193.51 419.3 L194.71 419.1 L195.91 418.89 L197.11 418.68 L198.31 418.46 L199.52 418.24 L200.72 418.01 L201.92 417.78 L203.12 417.55 L204.32 417.31 L205.52 417.07 L206.72 416.82 L207.92 416.57 L209.12 416.31 L210.32 416.05 L211.52 415.79 L212.72 415.52 L213.93 415.25 L215.13 414.97 L216.33 414.68 L217.53 414.39 L218.73 414.1 L219.93 413.8 L221.13 413.5 L222.33 413.19 L223.53 412.88 L224.73 412.57 L225.93 412.24 L227.13 411.92 L228.34 411.58 L229.54 411.25 L230.74 410.91 L231.94 410.56 L233.14 410.21 L234.34 409.85 L235.54 409.49 L236.74 409.12 L237.94 408.75 L239.14 408.38 L240.34 408 L241.54 407.61 L242.75 407.22 L243.95 406.82 L245.15 406.42 L246.35 406.02 L247.55 405.61 L248.75 405.19 L249.95 404.77 L251.15 404.34 L252.35 403.91 L253.55 403.48 L254.75 403.04 L255.95 402.59 L257.16 402.14 L258.36 401.69 L259.56 401.23 L260.76 400.77 L261.96 400.3 L263.16 399.82 L264.36 399.35 L265.56 398.87 L266.76 398.38 L267.96 397.89 L269.16 397.39 L270.36 396.89 L271.57 396.39 L272.77 395.88 L273.97 395.37 L275.17 394.85 L276.37 394.33 L277.57 393.81 L278.77 393.28 L279.97 392.75 L281.17 392.21 L282.37 391.67 L283.57 391.13 L284.77 390.58 L285.98 390.03 L287.18 389.47 L288.38 388.92 L289.58 388.35 L290.78 387.79 L291.98 387.22 L293.18 386.65 L294.38 386.08 L295.58 385.5 L296.78 384.92 L297.98 384.34 L299.18 383.76 L300.39 383.17 L301.59 382.58 L302.79 381.99 L303.99 381.4 L305.19 380.8 L306.39 380.2 L307.59 379.6 L308.79 379 L309.99 378.4 L311.19 377.79 L312.39 377.19 L313.59 376.58 L314.8 375.97 L316 375.36 L317.2 374.75 L318.4 374.13 L319.6 373.52 L320.8 372.9" fill="none" stroke="#1ec3cf" stroke-width="1.6" stroke-linejoin="round" stroke-linecap="butt" stroke-dasharray="6 2.8 2 3 2.2 2.8"/>
<path d="M33.8 427.14 L35 427.14 L36.2 427.13 L37.4 427.13 L38.6 427.13 L39.8 427.12 L41.01 427.12 L42.21 427.11 L43.41 427.11 L44.61 427.11 L45.81 427.1 L47.01 427.1 L48.21 427.09 L49.41 427.09 L50.61 427.08 L51.81 427.08 L53.01 427.07 L54.21 427.07 L55.42 427.06 L56.62 427.05 L57.82 427.05 L59.02 427.04 L60.22 427.03 L61.42 427.02 L62.62 427.02 L63.82 427.01 L65.02 427 L66.22 426.99 L67.42 426.98 L68.62 426.97 L69.83 426.96 L71.03 426.95 L72.23 426.94 L73.43 426.93 L74.63 426.92 L75.83 426.91 L77.03 426.9 L78.23 426.88 L79.43 426.87 L80.63 426.86 L81.83 426.84 L83.03 426.83 L84.24 426.81 L85.44 426.79 L86.64 426.78 L87.84 426.76 L89.04 426.74 L90.24 426.72 L91.44 426.7 L92.64 426.68 L93.84 426.66 L95.04 426.64 L96.24 426.62 L97.44 426.6 L98.65 426.57 L99.85 426.55 L101.05 426.52 L102.25 426.5 L103.45 426.47 L104.65 426.44 L105.85 426.41 L107.05 426.38 L108.25 426.35 L109.45 426.32 L110.65 426.29 L111.85 426.25 L113.06 426.22 L114.26 426.18 L115.46 426.14 L116.66 426.11 L117.86 426.07 L119.06 426.02 L120.26 425.98 L121.46 425.94 L122.66 425.89 L123.86 425.85 L125.06 425.8 L126.26 425.75 L127.47 425.7 L128.67 425.64 L129.87 425.59 L131.07 425.53 L132.27 425.48 L133.47 425.42 L134.67 425.35 L135.87 425.29 L137.07 425.23 L138.27 425.16 L139.47 425.09 L140.67 425.02 L141.88 424.95 L143.08 424.87 L144.28 424.8 L145.48 424.72 L146.68 424.64 L147.88 424.55 L149.08 424.47 L150.28 424.38 L151.48 424.29 L152.68 424.2 L153.88 424.1 L155.08 424 L156.29 423.9 L157.49 423.8 L158.69 423.69 L159.89 423.59 L161.09 423.48 L162.29 423.36 L163.49 423.24 L164.69 423.13 L165.89 423 L167.09 422.88 L168.29 422.75 L169.49 422.62 L170.7 422.48 L171.9 422.34 L173.1 422.2 L174.3 422.06 L175.5 421.91 L176.7 421.76 L177.9 421.6 L179.1 421.44 L180.3 421.28 L181.5 421.12 L182.7 420.95 L183.9 420.77 L185.11 420.6 L186.31 420.41 L187.51 420.23 L188.71 420.04 L189.91 419.85 L191.11 419.65 L192.31 419.45 L193.51 419.25 L194.71 419.04 L195.91 418.82 L197.11 418.6 L198.31 418.38 L199.52 418.16 L200.72 417.93 L201.92 417.69 L203.12 417.45 L204.32 417.21 L205.52 416.96 L206.72 416.7 L207.92 416.44 L209.12 416.18 L210.32 415.91 L211.52 415.64 L212.72 415.36 L213.93 415.08 L215.13 414.79 L216.33 414.5 L217.53 414.2 L218.73 413.9 L219.93 413.6 L221.13 413.28 L222.33 412.97 L223.53 412.64 L224.73 412.32 L225.93 411.98 L227.13 411.65 L228.34 411.3 L229.54 410.95 L230.74 410.6 L231.94 410.24 L233.14 409.88 L234.34 409.51 L235.54 409.13 L236.74 408.75 L237.94 408.37 L239.14 407.98 L240.34 407.58 L241.54 407.18 L242.75 406.78 L243.95 406.36 L245.15 405.95 L246.35 405.52 L247.55 405.1 L248.75 404.66 L249.95 404.23 L251.15 403.78 L252.35 403.33 L253.55 402.88 L254.75 402.42 L255.95 401.96 L257.16 401.49 L258.36 401.01 L259.56 400.54 L260.76 400.05 L261.96 399.56 L263.16 399.07 L264.36 398.57 L265.56 398.06 L266.76 397.56 L267.96 397.04 L269.16 396.52 L270.36 396 L271.57 395.47 L272.77 394.94 L273.97 394.4 L275.17 393.86 L276.37 393.31 L277.57 392.76 L278.77 392.21 L279.97 391.65 L281.17 391.09 L282.37 390.52 L283.57 389.95 L284.77 389.37 L285.98 388.79 L287.18 388.21 L288.38 387.62 L289.58 387.03 L290.78 386.44 L291.98 385.84 L293.18 385.24 L294.38 384.64 L295.58 384.03 L296.78 383.42 L297.98 382.81 L299.18 382.19 L300.39 381.57 L301.59 380.95 L302.79 380.32 L303.99 379.7 L305.19 379.07 L306.39 378.44 L307.59 377.8 L308.79 377.17 L309.99 376.53 L311.19 375.89 L312.39 375.24 L313.59 374.6 L314.8 373.95 L316 373.31 L317.2 372.66 L318.4 372.01 L319.6 371.36 L320.8 370.71" fill="none" stroke="#d83ce6" stroke-width="1.5" stroke-linejoin="round" stroke-linecap="butt" stroke-dasharray="4 2 1 1.8"/>
</g>
<line x1="29.8" y1="427.2" x2="33.8" y2="427.2" stroke="#3a3a3a" stroke-width="1.1"/>
<text x="27.6" y="430.8" font-size="10" font-weight="normal" font-style="normal" text-anchor="end" fill="#1a1a1a">0.00</text>
<line x1="29.8" y1="354.96" x2="33.8" y2="354.96" stroke="#3a3a3a" stroke-width="1.1"/>
<text x="27.6" y="358.56" font-size="10" font-weight="normal" font-style="normal" text-anchor="end" fill="#1a1a1a">0.01</text>
<line x1="29.8" y1="282.72" x2="33.8" y2="282.72" stroke="#3a3a3a" stroke-width="1.1"/>
<text x="27.6" y="286.32" font-size="10" font-weight="normal" font-style="normal" text-anchor="end" fill="#1a1a1a">0.02</text>
<line x1="31.6" y1="391.08" x2="33.8" y2="391.08" stroke="#3a3a3a" stroke-width="1.1"/>
<line x1="31.6" y1="318.84" x2="33.8" y2="318.84" stroke="#3a3a3a" stroke-width="1.1"/>
<line x1="33.8" y1="428.1" x2="33.8" y2="431.7" stroke="#3a3a3a" stroke-width="1.1"/>
<text x="33.8" y="443.2" font-size="10" font-weight="normal" font-style="normal" text-anchor="middle" fill="#1a1a1a">0.0</text>
<line x1="96.19" y1="428.1" x2="96.19" y2="431.7" stroke="#3a3a3a" stroke-width="1.1"/>
<text x="96.19" y="443.2" font-size="10" font-weight="normal" font-style="normal" text-anchor="middle" fill="#1a1a1a">0.5</text>
<line x1="158.58" y1="428.1" x2="158.58" y2="431.7" stroke="#3a3a3a" stroke-width="1.1"/>
<text x="158.58" y="443.2" font-size="10" font-weight="normal" font-style="normal" text-anchor="middle" fill="#1a1a1a">1.0</text>
<line x1="220.97" y1="428.1" x2="220.97" y2="431.7" stroke="#3a3a3a" stroke-width="1.1"/>
<text x="220.97" y="443.2" font-size="10" font-weight="normal" font-style="normal" text-anchor="middle" fill="#1a1a1a">1.5</text>
<line x1="283.37" y1="428.1" x2="283.37" y2="431.7" stroke="#3a3a3a" stroke-width="1.1"/>
<text x="283.37" y="443.2" font-size="10" font-weight="normal" font-style="normal" text-anchor="middle" fill="#1a1a1a">2.0</text>
<text x="177.3" y="461.1" font-size="11.5" font-weight="bold" font-style="normal" text-anchor="middle" fill="#111">Time (h)</text>
<text transform="translate(10.6 320.7) rotate(-90)" font-size="11.5" font-weight="bold" text-anchor="middle" fill="#111">C/C<tspan font-size="7" dy="2.6">0</tspan><tspan dy="-2.6"> (%)</tspan></text>
<path d="M43.8 253.4 H63.4" fill="none" stroke="#c4c4c4" stroke-width="1.3" stroke-linejoin="round" stroke-linecap="butt"/>
<text x="64" y="256.4" font-size="8.4" font-weight="bold" font-style="normal" text-anchor="start" fill="#111">Conservative</text>
<path d="M43.8 265.2 H63.4" fill="none" stroke="#e01030" stroke-width="2.4" stroke-linejoin="round" stroke-linecap="butt" stroke-dasharray="2.4 7.6"/>
<text x="64" y="268" font-size="8.4" font-weight="bold" font-style="normal" text-anchor="start" fill="#111">No</text>
<text x="77.2" y="268" font-size="8.4" font-weight="bold" font-style="normal" text-anchor="start" fill="#111">K</text>
<text x="83.4" y="270.2" font-size="5.8" font-weight="normal" font-style="italic" text-anchor="start" fill="#222">d,</text>
<text x="91.8" y="268" font-size="8.6" font-weight="normal" font-style="normal" text-anchor="start" fill="#111">α</text>
<text x="96.8" y="270.8" font-size="5.6" font-weight="normal" font-style="normal" text-anchor="start" fill="#222">agg</text>
<text x="105.9" y="268" font-size="8.4" font-weight="bold" font-style="normal" text-anchor="start" fill="#111">=</text>
<text x="113.7" y="268" font-size="8.4" font-weight="bold" font-style="normal" text-anchor="start" fill="#111">0</text>
<path d="M43.8 279 H63.4" fill="none" stroke="#8a55e6" stroke-width="1.2" stroke-linejoin="round" stroke-linecap="butt" stroke-dasharray="3 1.9"/>
<text x="64" y="281.7" font-size="8.4" font-weight="bold" font-style="normal" text-anchor="start" fill="#111">No</text>
<text x="77.2" y="281.7" font-size="8.4" font-weight="bold" font-style="normal" text-anchor="start" fill="#111">K</text>
<text x="83.4" y="283.9" font-size="5.8" font-weight="normal" font-style="italic" text-anchor="start" fill="#222">d,</text>
<text x="91.8" y="281.7" font-size="8.6" font-weight="normal" font-style="normal" text-anchor="start" fill="#111">α</text>
<text x="96.8" y="284.5" font-size="5.6" font-weight="normal" font-style="normal" text-anchor="start" fill="#222">agg</text>
<text x="105.9" y="281.7" font-size="8.4" font-weight="bold" font-style="normal" text-anchor="start" fill="#111">=</text>
<text x="113.7" y="281.7" font-size="8.4" font-weight="bold" font-style="normal" text-anchor="start" fill="#111">1</text>
<path d="M130.8 265.2 H150.8" fill="none" stroke="#1c1ca6" stroke-width="1.6" stroke-linejoin="round" stroke-linecap="butt" stroke-dasharray="6.2 3 1.7 2.6"/>
<text x="150.8" y="268" font-size="8.4" font-weight="bold" font-style="normal" text-anchor="start" fill="#111">Const.</text>
<text x="180.1" y="268" font-size="8.4" font-weight="bold" font-style="normal" text-anchor="start" fill="#111">K</text>
<text x="185.4" y="270.2" font-size="5.8" font-weight="normal" font-style="italic" text-anchor="start" fill="#222">d,</text>
<text x="193.4" y="268" font-size="8.6" font-weight="normal" font-style="normal" text-anchor="start" fill="#111">α</text>
<text x="198.7" y="270.8" font-size="5.6" font-weight="normal" font-style="normal" text-anchor="start" fill="#222">agg</text>
<text x="208.3" y="268" font-size="8.4" font-weight="bold" font-style="normal" text-anchor="start" fill="#111">=</text>
<text x="215.2" y="268" font-size="8.4" font-weight="bold" font-style="normal" text-anchor="start" fill="#111">0</text>
<path d="M130.8 279 H150.8" fill="none" stroke="#f5932a" stroke-width="1.1" stroke-linejoin="round" stroke-linecap="butt" stroke-dasharray="1 1"/>
<text x="150.8" y="281.7" font-size="8.4" font-weight="bold" font-style="normal" text-anchor="start" fill="#111">Const.</text>
<text x="180.1" y="281.7" font-size="8.4" font-weight="bold" font-style="normal" text-anchor="start" fill="#111">K</text>
<text x="185.4" y="283.9" font-size="5.8" font-weight="normal" font-style="italic" text-anchor="start" fill="#222">d,</text>
<text x="193.4" y="281.7" font-size="8.6" font-weight="normal" font-style="normal" text-anchor="start" fill="#111">α</text>
<text x="198.7" y="284.5" font-size="5.6" font-weight="normal" font-style="normal" text-anchor="start" fill="#222">agg</text>
<text x="208.3" y="281.7" font-size="8.4" font-weight="bold" font-style="normal" text-anchor="start" fill="#111">=</text>
<text x="215.2" y="281.7" font-size="8.4" font-weight="bold" font-style="normal" text-anchor="start" fill="#111">1</text>
<path d="M232.6 265.2 H252.7" fill="none" stroke="#1ec3cf" stroke-width="1.6" stroke-linejoin="round" stroke-linecap="butt" stroke-dasharray="6 2.8 2 3 2.2 2.8"/>
<text x="252.6" y="268" font-size="8.4" font-weight="bold" font-style="normal" text-anchor="start" fill="#111">Var.</text>
<text x="271.2" y="268" font-size="8.4" font-weight="bold" font-style="normal" text-anchor="start" fill="#111">K</text>
<text x="277" y="270.2" font-size="5.8" font-weight="normal" font-style="italic" text-anchor="start" fill="#222">d,</text>
<text x="285" y="268" font-size="8.6" font-weight="normal" font-style="normal" text-anchor="start" fill="#111">α</text>
<text x="290.3" y="270.8" font-size="5.6" font-weight="normal" font-style="normal" text-anchor="start" fill="#222">agg</text>
<text x="299.9" y="268" font-size="8.4" font-weight="bold" font-style="normal" text-anchor="start" fill="#111">=</text>
<text x="306.8" y="268" font-size="8.4" font-weight="bold" font-style="normal" text-anchor="start" fill="#111">0</text>
<path d="M232.6 279 H252.7" fill="none" stroke="#d83ce6" stroke-width="1.5" stroke-linejoin="round" stroke-linecap="butt" stroke-dasharray="4 2 1 1.8"/>
<text x="252.6" y="281.7" font-size="8.4" font-weight="bold" font-style="normal" text-anchor="start" fill="#111">Var.</text>
<text x="271.2" y="281.7" font-size="8.4" font-weight="bold" font-style="normal" text-anchor="start" fill="#111">K</text>
<text x="277" y="283.9" font-size="5.8" font-weight="normal" font-style="italic" text-anchor="start" fill="#222">d,</text>
<text x="285" y="281.7" font-size="8.6" font-weight="normal" font-style="normal" text-anchor="start" fill="#111">α</text>
<text x="290.3" y="284.5" font-size="5.6" font-weight="normal" font-style="normal" text-anchor="start" fill="#222">agg</text>
<text x="299.9" y="281.7" font-size="8.4" font-weight="bold" font-style="normal" text-anchor="start" fill="#111">=</text>
<text x="306.8" y="281.7" font-size="8.4" font-weight="bold" font-style="normal" text-anchor="start" fill="#111">1</text>
<rect x="333.8" y="222.6" width="26.4" height="32.7" fill="#d9fbfc"/>
<text x="340.5" y="246.6" font-size="21.5" font-weight="bold" font-style="italic" text-anchor="start" fill="#b3111c">d</text>
<line x1="360.6" y1="246.8" x2="650.7" y2="246.8" stroke="#3a3a3a" stroke-width="1.4"/>
<line x1="650.7" y1="246.8" x2="650.7" y2="428.3" stroke="#3a3a3a" stroke-width="1.3"/>
<line x1="364.6" y1="246.8" x2="364.6" y2="428.9" stroke="#3a3a3a" stroke-width="1.4"/>
<line x1="364" y1="428.3" x2="651.3" y2="428.3" stroke="#3a3a3a" stroke-width="1.2"/>
<g clip-path="url(#clipd)">
<path d="M364.6 427.4 L376.52 426.8 L388.44 424.39 L400.36 416.87 L412.28 385.26 L424.2 346.13 L436.12 317.54 L448.05 297.97 L459.97 291.95 L471.89 290.45 L483.81 289.54 L495.73 289.54 L507.65 289.54 L519.57 289.54 L531.49 289.54 L543.41 289.54 L555.33 293.46 L567.25 320.55 L579.18 368.71 L591.1 401.82 L603.02 416.56 L614.94 422.89 L626.86 425.59 L638.78 426.8 L650.7 427.4" fill="none" stroke="#c4c4c4" stroke-width="1.3" stroke-linejoin="round" stroke-linecap="butt"/>
<path d="M364.6 427.4 L376.52 426.8 L388.44 424.99 L400.36 417.47 L412.28 388.27 L424.2 355.16 L436.12 334.09 L448.05 324.46 L459.97 320.55 L471.89 318.44 L483.81 317.23 L495.73 317.23 L507.65 317.23 L519.57 317.23 L531.49 317.23 L543.41 317.23 L555.33 322.05 L567.25 341.62 L579.18 376.23 L591.1 400.31 L603.02 415.36 L614.94 422.89 L626.86 425.9 L638.78 427.4 L650.7 427.4" fill="none" stroke="#e01030" stroke-width="2.4" stroke-linejoin="round" stroke-linecap="butt" stroke-dasharray="2.4 7.6"/>
<path d="M364.6 427.4 L376.52 426.8 L388.44 424.39 L400.36 413.86 L412.28 388.27 L424.2 355.16 L436.12 331.08 L448.05 320.55 L459.97 315.43 L471.89 313.02 L483.81 311.51 L495.73 311.51 L507.65 311.51 L519.57 311.51 L531.49 311.51 L543.41 311.51 L555.33 314.53 L567.25 335.6 L579.18 373.22 L591.1 401.82 L603.02 416.87 L614.94 423.79 L626.86 426.2 L638.78 427.4 L650.7 427.4" fill="none" stroke="#8a55e6" stroke-width="1.2" stroke-linejoin="round" stroke-linecap="butt" stroke-dasharray="3 1.9"/>
<path d="M364.6 427.4 L376.52 426.8 L388.44 423.19 L400.36 394.89 L412.28 353.66 L424.2 331.08 L436.12 322.05 L448.05 318.44 L459.97 317.54 L471.89 317.54 L483.81 317.54 L495.73 317.54 L507.65 317.54 L519.57 317.54 L531.49 317.54 L543.41 317.54 L555.33 337.1 L567.25 379.24 L579.18 410.85 L591.1 422.89 L603.02 426.2 L614.94 427.4 L626.86 427.4 L638.78 427.4 L650.7 427.4" fill="none" stroke="#1c1ca6" stroke-width="1.6" stroke-linejoin="round" stroke-linecap="butt" stroke-dasharray="6.2 3 1.7 2.6"/>
<path d="M364.6 427.4 L376.52 426.8 L388.44 423.19 L400.36 394.29 L412.28 352.15 L424.2 326.56 L436.12 316.03 L448.05 311.82 L459.97 310.61 L471.89 310.01 L483.81 310.01 L495.73 310.01 L507.65 310.01 L519.57 310.01 L531.49 310.01 L543.41 310.01 L555.33 335.6 L567.25 380.75 L579.18 410.85 L591.1 422.89 L603.02 426.2 L614.94 427.4 L626.86 427.4 L638.78 427.4 L650.7 427.4" fill="none" stroke="#f5932a" stroke-width="1.1" stroke-linejoin="round" stroke-linecap="butt" stroke-dasharray="1 1"/>
<path d="M364.6 427.4 L376.52 426.8 L388.44 423.79 L400.36 406.33 L412.28 376.23 L424.2 352.15 L436.12 331.08 L448.05 322.05 L459.97 318.44 L471.89 317.54 L483.81 317.54 L495.73 317.54 L507.65 317.54 L519.57 317.54 L531.49 317.54 L543.41 317.54 L555.33 334.09 L567.25 364.19 L579.18 400.31 L591.1 418.37 L603.02 424.39 L614.94 426.5 L626.86 427.4 L638.78 427.4 L650.7 427.4" fill="none" stroke="#1ec3cf" stroke-width="1.6" stroke-linejoin="round" stroke-linecap="butt" stroke-dasharray="6 2.8 2 3 2.2 2.8"/>
<path d="M364.6 427.4 L376.52 426.8 L388.44 423.79 L400.36 400.31 L412.28 373.22 L424.2 347.64 L436.12 323.56 L448.05 316.03 L459.97 312.42 L471.89 310.91 L483.81 310.91 L495.73 310.91 L507.65 310.91 L519.57 310.91 L531.49 310.91 L543.41 310.91 L555.33 323.56 L567.25 349.14 L579.18 388.27 L591.1 412.35 L603.02 421.38 L614.94 425.59 L626.86 427.4 L638.78 427.4 L650.7 427.4" fill="none" stroke="#d83ce6" stroke-width="1.5" stroke-linejoin="round" stroke-linecap="butt" stroke-dasharray="4 2 1 1.8"/>
</g>
<line x1="360.6" y1="427.4" x2="364.6" y2="427.4" stroke="#3a3a3a" stroke-width="1.1"/>
<text x="358.4" y="431" font-size="10" font-weight="normal" font-style="normal" text-anchor="end" fill="#1a1a1a">0</text>
<line x1="360.6" y1="367.2" x2="364.6" y2="367.2" stroke="#3a3a3a" stroke-width="1.1"/>
<text x="358.4" y="370.8" font-size="10" font-weight="normal" font-style="normal" text-anchor="end" fill="#1a1a1a">2</text>
<line x1="360.6" y1="307" x2="364.6" y2="307" stroke="#3a3a3a" stroke-width="1.1"/>
<text x="358.4" y="310.6" font-size="10" font-weight="normal" font-style="normal" text-anchor="end" fill="#1a1a1a">4</text>
<line x1="362.4" y1="397.3" x2="364.6" y2="397.3" stroke="#3a3a3a" stroke-width="1.1"/>
<line x1="362.4" y1="337.1" x2="364.6" y2="337.1" stroke="#3a3a3a" stroke-width="1.1"/>
<line x1="362.4" y1="276.9" x2="364.6" y2="276.9" stroke="#3a3a3a" stroke-width="1.1"/>
<line x1="364.6" y1="428.3" x2="364.6" y2="431.9" stroke="#3a3a3a" stroke-width="1.1"/>
<text x="364.6" y="443.4" font-size="10" font-weight="normal" font-style="normal" text-anchor="middle" fill="#1a1a1a">0.0</text>
<line x1="436.12" y1="428.3" x2="436.12" y2="431.9" stroke="#3a3a3a" stroke-width="1.1"/>
<text x="436.12" y="443.4" font-size="10" font-weight="normal" font-style="normal" text-anchor="middle" fill="#1a1a1a">0.5</text>
<line x1="507.65" y1="428.3" x2="507.65" y2="431.9" stroke="#3a3a3a" stroke-width="1.1"/>
<text x="507.65" y="443.4" font-size="10" font-weight="normal" font-style="normal" text-anchor="middle" fill="#1a1a1a">1.0</text>
<line x1="579.18" y1="428.3" x2="579.18" y2="431.9" stroke="#3a3a3a" stroke-width="1.1"/>
<text x="579.18" y="443.4" font-size="10" font-weight="normal" font-style="normal" text-anchor="middle" fill="#1a1a1a">1.5</text>
<line x1="650.7" y1="428.3" x2="650.7" y2="431.9" stroke="#3a3a3a" stroke-width="1.1"/>
<text x="650.7" y="443.4" font-size="10" font-weight="normal" font-style="normal" text-anchor="middle" fill="#1a1a1a">2.0</text>
<text x="507.65" y="461.3" font-size="11.5" font-weight="bold" font-style="normal" text-anchor="middle" fill="#111">Time (h)</text>
<text transform="translate(350.3 336.9) rotate(-90)" font-size="11.5" font-weight="bold" text-anchor="middle" fill="#111">C/C<tspan font-size="7" dy="2.6">0</tspan><tspan dy="-2.6"> (%)</tspan></text>
<path d="M374.6 254.6 H394.2" fill="none" stroke="#c4c4c4" stroke-width="1.3" stroke-linejoin="round" stroke-linecap="butt"/>
<text x="394.8" y="257.6" font-size="8.4" font-weight="bold" font-style="normal" text-anchor="start" fill="#111">Conservative</text>
<path d="M374.6 266.4 H394.2" fill="none" stroke="#e01030" stroke-width="2.4" stroke-linejoin="round" stroke-linecap="butt" stroke-dasharray="2.4 7.6"/>
<text x="394.8" y="269.2" font-size="8.4" font-weight="bold" font-style="normal" text-anchor="start" fill="#111">No</text>
<text x="408" y="269.2" font-size="8.4" font-weight="bold" font-style="normal" text-anchor="start" fill="#111">K</text>
<text x="414.2" y="271.4" font-size="5.8" font-weight="normal" font-style="italic" text-anchor="start" fill="#222">d,</text>
<text x="422.6" y="269.2" font-size="8.6" font-weight="normal" font-style="normal" text-anchor="start" fill="#111">α</text>
<text x="427.6" y="272" font-size="5.6" font-weight="normal" font-style="normal" text-anchor="start" fill="#222">agg</text>
<text x="436.7" y="269.2" font-size="8.4" font-weight="bold" font-style="normal" text-anchor="start" fill="#111">=</text>
<text x="444.5" y="269.2" font-size="8.4" font-weight="bold" font-style="normal" text-anchor="start" fill="#111">0</text>
<path d="M374.6 280.2 H394.2" fill="none" stroke="#8a55e6" stroke-width="1.2" stroke-linejoin="round" stroke-linecap="butt" stroke-dasharray="3 1.9"/>
<text x="394.8" y="282.9" font-size="8.4" font-weight="bold" font-style="normal" text-anchor="start" fill="#111">No</text>
<text x="408" y="282.9" font-size="8.4" font-weight="bold" font-style="normal" text-anchor="start" fill="#111">K</text>
<text x="414.2" y="285.1" font-size="5.8" font-weight="normal" font-style="italic" text-anchor="start" fill="#222">d,</text>
<text x="422.6" y="282.9" font-size="8.6" font-weight="normal" font-style="normal" text-anchor="start" fill="#111">α</text>
<text x="427.6" y="285.7" font-size="5.6" font-weight="normal" font-style="normal" text-anchor="start" fill="#222">agg</text>
<text x="436.7" y="282.9" font-size="8.4" font-weight="bold" font-style="normal" text-anchor="start" fill="#111">=</text>
<text x="444.5" y="282.9" font-size="8.4" font-weight="bold" font-style="normal" text-anchor="start" fill="#111">1</text>
<path d="M461.6 266.4 H481.6" fill="none" stroke="#1c1ca6" stroke-width="1.6" stroke-linejoin="round" stroke-linecap="butt" stroke-dasharray="6.2 3 1.7 2.6"/>
<text x="481.6" y="269.2" font-size="8.4" font-weight="bold" font-style="normal" text-anchor="start" fill="#111">Const.</text>
<text x="510.9" y="269.2" font-size="8.4" font-weight="bold" font-style="normal" text-anchor="start" fill="#111">K</text>
<text x="516.2" y="271.4" font-size="5.8" font-weight="normal" font-style="italic" text-anchor="start" fill="#222">d,</text>
<text x="524.2" y="269.2" font-size="8.6" font-weight="normal" font-style="normal" text-anchor="start" fill="#111">α</text>
<text x="529.5" y="272" font-size="5.6" font-weight="normal" font-style="normal" text-anchor="start" fill="#222">agg</text>
<text x="539.1" y="269.2" font-size="8.4" font-weight="bold" font-style="normal" text-anchor="start" fill="#111">=</text>
<text x="546" y="269.2" font-size="8.4" font-weight="bold" font-style="normal" text-anchor="start" fill="#111">0</text>
<path d="M461.6 280.2 H481.6" fill="none" stroke="#f5932a" stroke-width="1.1" stroke-linejoin="round" stroke-linecap="butt" stroke-dasharray="1 1"/>
<text x="481.6" y="282.9" font-size="8.4" font-weight="bold" font-style="normal" text-anchor="start" fill="#111">Const.</text>
<text x="510.9" y="282.9" font-size="8.4" font-weight="bold" font-style="normal" text-anchor="start" fill="#111">K</text>
<text x="516.2" y="285.1" font-size="5.8" font-weight="normal" font-style="italic" text-anchor="start" fill="#222">d,</text>
<text x="524.2" y="282.9" font-size="8.6" font-weight="normal" font-style="normal" text-anchor="start" fill="#111">α</text>
<text x="529.5" y="285.7" font-size="5.6" font-weight="normal" font-style="normal" text-anchor="start" fill="#222">agg</text>
<text x="539.1" y="282.9" font-size="8.4" font-weight="bold" font-style="normal" text-anchor="start" fill="#111">=</text>
<text x="546" y="282.9" font-size="8.4" font-weight="bold" font-style="normal" text-anchor="start" fill="#111">1</text>
<path d="M563.4 266.4 H583.5" fill="none" stroke="#1ec3cf" stroke-width="1.6" stroke-linejoin="round" stroke-linecap="butt" stroke-dasharray="6 2.8 2 3 2.2 2.8"/>
<text x="583.4" y="269.2" font-size="8.4" font-weight="bold" font-style="normal" text-anchor="start" fill="#111">Var.</text>
<text x="602" y="269.2" font-size="8.4" font-weight="bold" font-style="normal" text-anchor="start" fill="#111">K</text>
<text x="607.8" y="271.4" font-size="5.8" font-weight="normal" font-style="italic" text-anchor="start" fill="#222">d,</text>
<text x="615.8" y="269.2" font-size="8.6" font-weight="normal" font-style="normal" text-anchor="start" fill="#111">α</text>
<text x="621.1" y="272" font-size="5.6" font-weight="normal" font-style="normal" text-anchor="start" fill="#222">agg</text>
<text x="630.7" y="269.2" font-size="8.4" font-weight="bold" font-style="normal" text-anchor="start" fill="#111">=</text>
<text x="637.6" y="269.2" font-size="8.4" font-weight="bold" font-style="normal" text-anchor="start" fill="#111">0</text>
<path d="M563.4 280.2 H583.5" fill="none" stroke="#d83ce6" stroke-width="1.5" stroke-linejoin="round" stroke-linecap="butt" stroke-dasharray="4 2 1 1.8"/>
<text x="583.4" y="282.9" font-size="8.4" font-weight="bold" font-style="normal" text-anchor="start" fill="#111">Var.</text>
<text x="602" y="282.9" font-size="8.4" font-weight="bold" font-style="normal" text-anchor="start" fill="#111">K</text>
<text x="607.8" y="285.1" font-size="5.8" font-weight="normal" font-style="italic" text-anchor="start" fill="#222">d,</text>
<text x="615.8" y="282.9" font-size="8.6" font-weight="normal" font-style="normal" text-anchor="start" fill="#111">α</text>
<text x="621.1" y="285.7" font-size="5.6" font-weight="normal" font-style="normal" text-anchor="start" fill="#222">agg</text>
<text x="630.7" y="282.9" font-size="8.4" font-weight="bold" font-style="normal" text-anchor="start" fill="#111">=</text>
<text x="637.6" y="282.9" font-size="8.4" font-weight="bold" font-style="normal" text-anchor="start" fill="#111">1</text></svg>
</body></html>
